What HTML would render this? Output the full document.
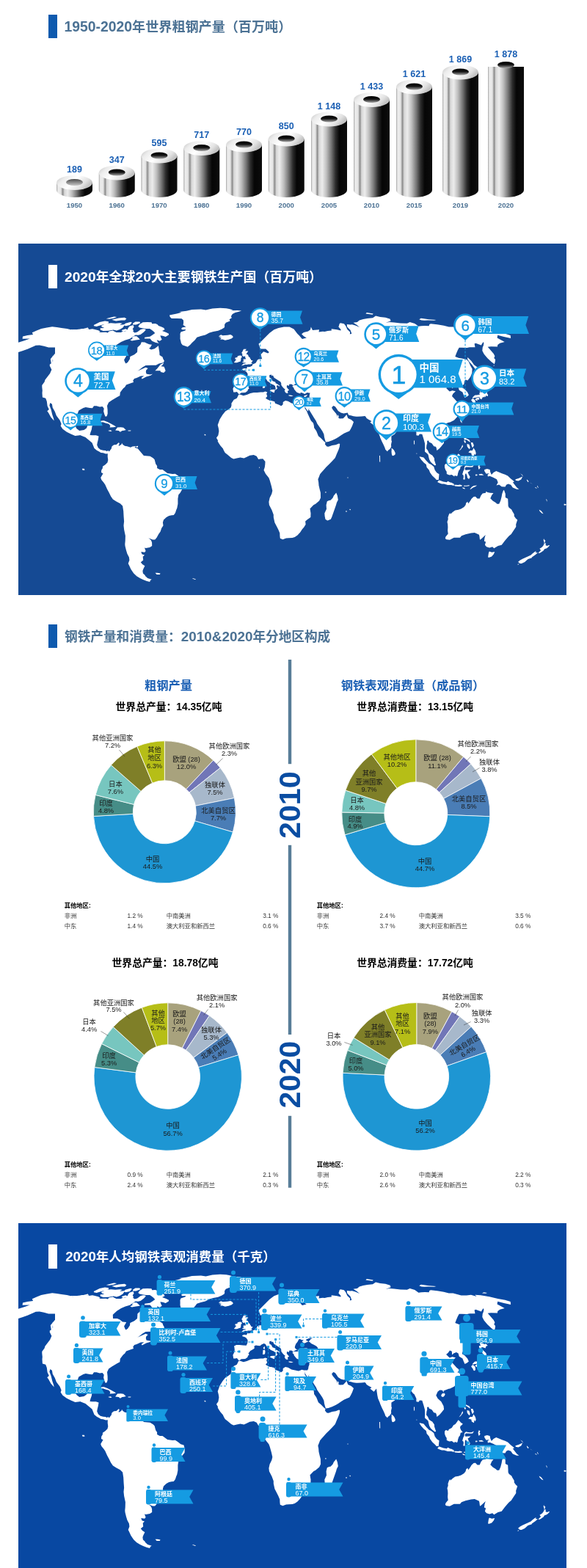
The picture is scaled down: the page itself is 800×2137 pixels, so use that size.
<!DOCTYPE html>
<html lang="zh-CN"><head><meta charset="utf-8"><title>世界钢铁统计数据 2021</title>
<style>
.dl{font-size:9.3px;fill:#1a1a1a;text-anchor:middle}
.yr{font-size:41.2px;font-weight:bold;fill:#0a4da2}
.h1{font-size:16.3px;font-weight:bold;fill:#1a5fb4;text-anchor:middle}
.h2{font-size:13.8px;font-weight:bold;fill:#000;text-anchor:middle}
.tb{font-size:8.3px;font-weight:bold;fill:#000}
.tr{font-size:8.3px;fill:#333}

.mn{font-weight:normal}
.nm{font-weight:bold;fill:#fff}
.vl{fill:#fff}

html,body{margin:0;padding:0;background:#fff}
body{width:800px;height:2137px;position:relative;overflow:hidden;font-family:"Liberation Sans","Noto Sans CJK SC",sans-serif}
.abs{position:absolute}
.box{position:absolute}
.tbar{position:absolute;width:11.5px;height:32.5px}
.ttl{position:absolute;height:32.5px;line-height:33px;font-size:17.95px;font-weight:bold;white-space:nowrap;letter-spacing:0}
.ttl b{font-size:19.2px;font-weight:bold}
svg text{font-family:"Liberation Sans","Noto Sans CJK SC",sans-serif}
.bv{font-size:12.5px;font-weight:bold;fill:#1a5fb4;text-anchor:middle}
.by{font-size:9.6px;font-weight:bold;fill:#4c7294;text-anchor:middle}
</style></head>
<body>
<div class="tbar" style="left:66px;top:19.5px;background:#0e5aae"></div><div class="ttl" style="left:87.5px;top:19.5px;color:#4c7294;font-size:18.1px"><b style="font-size:19.37px">1950-2020</b>年世界粗钢产量（百万吨）</div>
<svg class="abs" style="left:0;top:0" width="800" height="320" viewBox="0 0 800 320">
<defs>
<linearGradient id="gb" x1="0" x2="1" y1="0" y2="0">
<stop offset="0" stop-color="#a4a4a4"/><stop offset="0.04" stop-color="#ededed"/><stop offset="0.12" stop-color="#e6e6e6"/>
<stop offset="0.175" stop-color="#8c8c8c"/><stop offset="0.22" stop-color="#d6d6d6"/><stop offset="0.31" stop-color="#ececec"/>
<stop offset="0.43" stop-color="#bdbdbd"/><stop offset="0.56" stop-color="#767676"/><stop offset="0.68" stop-color="#2c2c2c"/>
<stop offset="0.79" stop-color="#060606"/><stop offset="1" stop-color="#0c0c0c"/></linearGradient>
<linearGradient id="gt" x1="0" x2="1" y1="0" y2="0.4">
<stop offset="0" stop-color="#bdbdbd"/><stop offset="0.25" stop-color="#ececec"/><stop offset="0.55" stop-color="#ffffff"/>
<stop offset="0.85" stop-color="#e2e2e2"/><stop offset="1" stop-color="#c4c4c4"/></linearGradient>
<linearGradient id="gh0" x1="0" x2="0" y1="0" y2="1">
<stop offset="0" stop-color="#4a4a4a"/><stop offset="0.5" stop-color="#8a8a8a"/><stop offset="1" stop-color="#c8c8c8"/></linearGradient>
<linearGradient id="gh" x1="0" x2="0" y1="0" y2="1">
<stop offset="0" stop-color="#000"/><stop offset="0.45" stop-color="#111"/><stop offset="1" stop-color="#aaa"/></linearGradient>
</defs>
<path d="M77,249 L126,249 L126,259 A24.5,10 0 0 1 77,259 Z" fill="url(#gb)"/>
<ellipse cx="101.5" cy="249" rx="24.5" ry="10" fill="url(#gt)"/>
<ellipse cx="101.5" cy="248.5" rx="11.5" ry="4.5" fill="url(#gh0)"/>
<text x="101.5" y="235" class="bv">189</text>
<text x="101.5" y="282.8" class="by">1950</text>
<path d="M134.75,235.5 L183.75,235.5 L183.75,259 A24.5,10 0 0 1 134.75,259 Z" fill="url(#gb)"/>
<ellipse cx="159.25" cy="235.5" rx="24.5" ry="10" fill="url(#gt)"/>
<ellipse cx="159.25" cy="235.0" rx="11.5" ry="4.5" fill="url(#gh)"/>
<text x="159.25" y="221.5" class="bv">347</text>
<text x="159.25" y="282.8" class="by">1960</text>
<path d="M192.5,212.5 L241.5,212.5 L241.5,259 A24.5,10 0 0 1 192.5,259 Z" fill="url(#gb)"/>
<ellipse cx="217.0" cy="212.5" rx="24.5" ry="10" fill="url(#gt)"/>
<ellipse cx="217.0" cy="212.0" rx="11.5" ry="4.5" fill="url(#gh)"/>
<text x="217.0" y="198.5" class="bv">595</text>
<text x="217.0" y="282.8" class="by">1970</text>
<path d="M250.25,202 L299.25,202 L299.25,259 A24.5,10 0 0 1 250.25,259 Z" fill="url(#gb)"/>
<ellipse cx="274.75" cy="202" rx="24.5" ry="10" fill="url(#gt)"/>
<ellipse cx="274.75" cy="201.5" rx="11.5" ry="4.5" fill="url(#gh)"/>
<text x="274.75" y="188" class="bv">717</text>
<text x="274.75" y="282.8" class="by">1980</text>
<path d="M308,197.5 L357,197.5 L357,259 A24.5,10 0 0 1 308,259 Z" fill="url(#gb)"/>
<ellipse cx="332.5" cy="197.5" rx="24.5" ry="10" fill="url(#gt)"/>
<ellipse cx="332.5" cy="197.0" rx="11.5" ry="4.5" fill="url(#gh)"/>
<text x="332.5" y="183.5" class="bv">770</text>
<text x="332.5" y="282.8" class="by">1990</text>
<path d="M365.75,189.5 L414.75,189.5 L414.75,259 A24.5,10 0 0 1 365.75,259 Z" fill="url(#gb)"/>
<ellipse cx="390.25" cy="189.5" rx="24.5" ry="10" fill="url(#gt)"/>
<ellipse cx="390.25" cy="189.0" rx="11.5" ry="4.5" fill="url(#gh)"/>
<text x="390.25" y="175.5" class="bv">850</text>
<text x="390.25" y="282.8" class="by">2000</text>
<path d="M424,162.5 L473,162.5 L473,259 A24.5,10 0 0 1 424,259 Z" fill="url(#gb)"/>
<ellipse cx="448.5" cy="162.5" rx="24.5" ry="10" fill="url(#gt)"/>
<ellipse cx="448.5" cy="162.0" rx="11.5" ry="4.5" fill="url(#gh)"/>
<text x="448.5" y="148.5" class="bv">1 148</text>
<text x="448.5" y="282.8" class="by">2005</text>
<path d="M482,136 L531,136 L531,259 A24.5,10 0 0 1 482,259 Z" fill="url(#gb)"/>
<ellipse cx="506.5" cy="136" rx="24.5" ry="10" fill="url(#gt)"/>
<ellipse cx="506.5" cy="135.5" rx="11.5" ry="4.5" fill="url(#gh)"/>
<text x="506.5" y="122" class="bv">1 433</text>
<text x="506.5" y="282.8" class="by">2010</text>
<path d="M540,118.5 L589,118.5 L589,259 A24.5,10 0 0 1 540,259 Z" fill="url(#gb)"/>
<ellipse cx="564.5" cy="118.5" rx="24.5" ry="10" fill="url(#gt)"/>
<ellipse cx="564.5" cy="118.0" rx="11.5" ry="4.5" fill="url(#gh)"/>
<text x="564.5" y="104.5" class="bv">1 621</text>
<text x="564.5" y="282.8" class="by">2015</text>
<path d="M603,98.5 L652,98.5 L652,259 A24.5,10 0 0 1 603,259 Z" fill="url(#gb)"/>
<ellipse cx="627.5" cy="98.5" rx="24.5" ry="10" fill="url(#gt)"/>
<ellipse cx="627.5" cy="98.0" rx="11.5" ry="4.5" fill="url(#gh)"/>
<text x="627.5" y="84.5" class="bv">1 869</text>
<text x="627.5" y="282.8" class="by">2019</text>
<path d="M665,91 L714,91 L714,259 A24.5,10 0 0 1 665,259 Z" fill="url(#gb)"/>
<ellipse cx="689.5" cy="88.5" rx="11.5" ry="4.5" fill="url(#gh)"/>
<text x="689.5" y="78" class="bv">1 878</text>
<text x="689.5" y="282.8" class="by">2020</text>
</svg>
<div class="box" style="left:25px;top:331.5px;width:746.5px;height:479px;background:#154a94"></div>
<svg class="abs" style="left:0;top:331.5px" width="771.5" height="479" viewBox="0 331.5 771.5 479"><defs><path id="land" d="M25.0,466.2 33.8,463.5 40.6,460.9 30.6,461.2 31.0,458.1 37.5,456.5 45.0,455.6 43.8,452.8 50.0,450.0 56.2,447.5 63.8,446.0 71.2,444.8 77.5,445.6 83.8,446.5 91.2,447.5 97.5,449.0 100.0,449.6 105.0,448.5 112.5,447.8 118.8,446.2 121.2,447.5 96.5,448.4 99.1,449.8 105.4,448.4 111.9,447.4 116.7,447.2 119.3,445.8 121.5,448.4 125.9,447.7 129.2,448.6 134.1,449.8 136.8,451.4 134.9,452.4 144.2,452.2 146.9,453.1 148.7,451.0 153.6,450.0 158.5,452.4 164.9,452.4 168.2,450.7 170.5,451.2 174.0,448.4 174.2,447.2 176.3,444.2 181.4,442.6 182.6,444.9 180.7,447.9 181.9,449.5 181.3,451.2 183.6,452.9 187.1,451.9 191.8,448.4 195.1,447.7 197.6,447.9 198.8,449.1 196.1,451.9 191.5,455.5 188.2,456.3 184.7,456.0 180.9,458.5 176.9,461.2 170.9,462.9 165.1,465.4 159.2,469.2 153.8,474.3 154.0,479.5 159.7,479.5 162.9,480.8 167.0,484.0 172.2,484.5 169.1,490.1 170.1,492.7 171.5,494.9 174.1,493.3 177.0,488.7 177.3,485.6 183.1,482.7 187.0,479.5 187.3,475.6 187.4,473.0 191.4,469.2 192.8,465.7 197.4,465.9 200.3,467.4 203.4,468.7 207.0,469.2 204.8,473.0 203.0,474.3 206.0,476.1 210.7,474.8 215.9,470.7 216.5,475.1 217.3,479.5 217.5,483.4 221.5,486.1 222.4,488.7 224.0,491.4 222.4,493.8 216.7,494.9 212.6,497.3 206.2,497.3 198.6,497.6 194.3,500.0 188.0,504.9 184.6,506.8 190.6,503.8 198.5,500.3 201.7,501.4 199.2,504.1 198.8,506.3 199.5,509.0 201.5,509.6 204.6,510.1 208.3,509.0 208.9,508.5 205.3,511.2 199.2,512.9 193.7,515.9 192.7,514.5 196.3,511.8 191.8,512.0 186.4,514.5 183.1,515.6 181.3,518.1 182.0,520.6 178.2,521.7 172.0,523.9 170.2,527.0 167.8,528.9 165.7,531.7 163.8,534.2 163.3,538.7 159.5,540.7 156.6,542.6 152.4,545.1 148.1,547.9 146.0,552.4 146.6,558.0 146.7,563.3 145.6,566.7 143.6,567.2 142.4,564.4 141.1,559.9 141.7,556.3 139.6,553.5 135.9,554.1 131.5,552.7 128.0,552.7 126.0,555.8 122.5,555.5 116.8,554.4 113.5,555.5 107.3,559.1 105.2,564.7 102.4,573.1 102.2,578.7 104.3,583.4 108.2,586.5 114.5,585.4 118.0,582.9 119.3,579.2 120.3,578.4 125.3,577.3 127.8,577.3 125.5,580.5 124.8,585.0 123.2,589.5 122.5,592.5 126.2,592.8 130.8,592.8 134.5,594.0 133.8,598.5 132.7,603.0 132.2,606.0 133.8,609.8 136.8,612.3 140.5,613.2 143.5,613.5 145.8,614.5 147.5,613.6 148.7,615.0 151.9,610.8 152.3,608.3 154.1,606.6 155.6,605.8 158.6,605.5 162.0,602.6 162.8,604.4 161.5,606.6 162.2,607.2 165.5,605.2 166.1,603.3 167.2,605.2 170.0,607.2 173.2,607.8 178.0,609.2 180.5,608.0 185.4,607.5 183.4,609.4 187.7,610.8 190.0,613.6 193.6,617.8 195.9,620.6 201.6,620.9 204.5,621.2 208.6,623.7 210.6,625.7 212.2,631.8 214.1,634.6 214.1,637.4 217.8,639.4 221.5,639.4 228.2,644.4 235.1,645.5 238.8,645.2 242.6,647.7 246.3,650.8 250.5,651.9 251.8,657.3 251.5,662.6 248.0,666.8 245.7,671.0 243.3,673.8 242.4,679.3 242.4,686.3 241.3,691.9 240.3,694.2 238.9,698.4 236.8,701.6 233.9,701.7 230.3,702.6 226.7,704.5 223.0,708.1 221.9,711.5 222.5,715.7 220.2,719.3 218.6,724.1 216.1,727.4 213.7,731.9 211.2,735.1 208.1,735.0 204.1,733.6 202.4,732.5 206.0,736.1 207.1,738.9 207.2,743.6 204.2,745.6 198.8,746.4 197.0,745.9 198.6,750.6 197.1,752.3 192.3,751.4 193.4,754.7 197.0,756.1 194.7,758.3 195.2,763.0 191.8,765.8 194.0,768.5 197.4,770.7 195.4,774.8 194.4,777.5 194.9,781.0 197.2,783.1 198.2,784.7 201.2,787.4 206.8,789.2 204.8,790.6 204.2,792.6 200.1,791.4 195.0,789.5 190.8,787.4 186.3,784.7 182.1,780.7 178.4,775.3 176.0,769.9 174.7,767.4 176.4,763.0 175.9,758.9 173.4,754.2 171.9,749.2 170.5,743.6 170.3,740.9 170.7,736.7 170.9,729.7 169.1,721.3 168.5,715.7 169.1,710.1 168.6,703.4 168.2,696.1 167.1,689.1 163.8,685.8 158.6,683.0 153.9,679.9 151.1,676.0 148.7,671.0 146.1,666.2 143.3,660.0 141.2,657.0 138.3,653.6 137.2,650.5 139.1,647.2 140.5,644.7 138.0,643.6 138.2,640.2 139.9,637.4 139.9,635.2 143.2,632.9 146.4,630.1 147.3,626.5 146.7,622.0 146.8,617.8 144.2,618.0 140.5,616.8 137.5,616.5 135.2,615.0 132.2,613.5 128.5,610.5 127.0,606.8 125.5,603.0 121.0,599.2 116.5,595.5 109.0,592.5 108.6,592.7 102.4,593.5 96.6,591.0 91.0,588.2 85.5,584.3 82.6,580.1 83.6,577.3 81.6,572.2 76.9,566.1 74.8,560.5 71.7,554.9 70.9,550.2 68.4,548.5 67.4,552.1 69.6,557.7 71.3,564.7 73.0,569.7 73.7,573.1 69.3,568.1 66.0,561.9 64.3,559.7 66.8,557.4 64.6,552.7 63.8,546.5 62.2,542.3 57.9,540.9 57.5,535.1 57.8,531.7 57.3,527.0 57.3,524.5 60.6,520.1 61.4,517.3 68.1,508.5 70.7,502.5 69.9,501.1 67.6,496.2 71.0,494.1 72.2,491.4 71.5,486.6 72.0,483.4 71.2,505.0 67.5,497.5 70.0,496.2 68.8,488.8 75.0,481.2 75.0,473.1 66.2,473.1 60.0,471.2 53.8,470.0 48.8,470.2 43.8,472.5 37.5,475.2 31.2,477.5 25.0,479.4 22.5,479.4 22.5,466.2ZM216.8,467.4 211.7,466.2 207.2,464.2 204.5,460.9 196.9,460.9 197.2,459.2 204.4,458.2 207.8,456.0 211.3,453.6 209.3,451.2 206.4,449.1 204.2,447.4 198.8,447.4 194.1,446.7 190.3,446.0 188.3,444.4 190.3,441.5 194.7,438.8 200.8,438.5 206.5,438.8 207.2,440.8 211.7,440.5 214.3,441.5 216.1,443.5 220.2,444.9 223.4,446.5 224.5,448.8 221.0,450.5 225.9,452.2 230.0,454.3 229.9,456.0 225.7,458.5 221.8,457.2 218.4,456.7 219.4,459.7 220.7,462.2 217.7,464.2 213.8,462.7 214.9,465.7ZM127.8,442.6 135.8,438.5 143.0,437.0 148.0,437.7 147.9,439.7 138.2,442.6 131.5,444.4 128.0,443.7ZM133.0,576.2 138.0,573.1 141.7,572.8 146.3,574.5 150.8,576.7 155.3,579.2 158.2,580.9 155.0,581.8 149.6,581.9 150.4,579.8 148.3,577.3 143.6,575.9 140.2,574.8 136.5,575.3ZM211.5,780.2 214.7,780.2 218.6,781.0 217.8,782.6 213.6,782.6ZM111.8,638.2 114.8,638.2 115.5,640.2 112.6,640.2ZM255.7,472.3 253.0,471.2 248.7,469.7 246.9,467.2 246.3,464.2 245.5,461.2 245.6,458.0 245.5,454.6 246.4,451.9 252.4,450.0 253.2,448.6 248.6,448.8 246.9,447.4 248.6,445.8 253.5,444.9 249.6,442.6 250.1,439.2 250.0,435.9 247.6,433.7 241.2,433.5 233.9,433.5 231.7,431.6 231.0,429.1 240.9,427.1 247.5,425.2 244.3,424.6 254.1,423.2 261.6,421.6 273.9,421.1 280.5,422.0 289.4,420.0 300.0,419.3 308.4,419.7 312.3,420.6 317.6,422.0 314.2,422.8 323.3,422.5 329.1,423.0 325.7,424.3 320.6,425.6 316.8,427.5 314.9,430.5 315.8,432.7 312.6,434.8 313.5,437.0 307.8,439.2 306.0,441.9 306.2,444.2 305.7,446.0 302.4,447.9 297.3,450.2 290.6,451.4 285.4,453.1 279.8,456.0 273.7,457.5 268.4,459.2 265.6,462.9 261.6,466.7 258.9,469.7ZM157.1,585.9 160.0,582.0 164.6,581.8 168.2,582.3 171.7,585.4 169.0,586.2 166.5,586.5 163.9,588.2 161.7,586.5ZM297.7,458.0 301.1,455.8 303.6,456.7 306.5,456.5 310.2,456.3 314.1,455.5 316.4,456.7 317.9,458.7 315.8,460.7 311.8,462.2 306.8,463.2 303.2,462.0 300.0,462.2 301.8,460.4 298.3,459.4 302.3,458.5ZM147.6,586.2 150.8,585.7 152.6,587.1 150.6,587.6 147.8,586.8ZM165.8,449.5 171.1,447.7 173.6,448.8 170.9,450.7 166.4,450.7ZM152.2,435.2 161.9,433.1 169.6,432.2 172.4,433.7 170.3,435.9 165.1,436.1 158.1,437.0 154.6,435.9ZM211.3,504.7 213.9,502.2 218.7,496.2 223.5,493.8 221.7,496.8 219.5,498.7 223.6,499.2 224.8,502.2 225.6,504.9 223.1,507.4 219.0,506.6 218.5,504.7ZM144.6,433.7 155.4,431.0 159.2,431.6 155.0,433.3 148.8,434.2ZM170.9,440.3 178.3,438.3 179.8,439.2 177.0,442.6 171.5,443.7 168.4,442.6ZM174.6,585.9 178.5,585.9 178.1,587.1 174.5,587.1ZM262.4,787.4 266.9,788.7 266.1,789.5 262.6,788.2ZM184.4,438.1 190.3,438.1 191.2,439.7 185.5,441.9 181.0,442.1 181.1,440.3ZM182.4,457.7 186.2,457.7 189.0,460.2 190.8,462.2 185.1,462.9 179.6,463.9 177.3,462.7 180.7,461.2 180.0,459.7ZM185.7,607.5 188.2,607.2 187.8,609.2 185.6,609.2ZM137.9,443.5 144.2,440.5 151.3,439.7 157.2,440.3 163.2,439.7 166.6,440.3 163.2,442.6 170.5,441.5 167.4,446.0 163.3,448.4 159.0,450.0 154.6,449.1 148.0,450.2 140.6,450.5 136.7,449.1 136.7,446.7 142.3,446.5 138.9,444.9ZM325.2,537.3 326.6,537.0 331.8,538.7 336.5,537.6 341.2,535.6 345.9,534.5 350.5,534.5 355.1,533.9 358.8,534.1 361.5,533.1 364.3,533.9 363.2,535.9 363.4,537.3 364.3,539.5 362.0,542.3 364.3,543.7 367.9,545.4 369.5,545.4 374.2,546.8 375.0,549.3 379.7,551.0 383.3,552.7 385.6,550.7 385.7,547.6 388.9,545.4 392.5,546.2 397.3,549.0 402.1,549.9 406.8,551.0 409.1,550.2 411.4,549.3 414.5,549.9 415.2,553.5 415.6,556.3 418.0,559.7 419.4,563.3 422.0,568.9 423.9,573.1 426.9,575.9 427.8,579.2 428.1,582.6 431.2,587.1 433.9,593.8 437.7,596.9 441.5,601.0 443.5,602.4 442.9,605.0 445.4,608.0 447.8,608.3 452.7,606.4 457.6,605.8 461.9,604.1 463.2,604.4 462.8,608.3 461.5,612.2 459.1,617.8 456.8,623.4 453.1,627.6 449.0,631.8 444.6,636.0 440.9,640.2 438.4,643.0 436.1,645.8 435.1,648.6 433.4,652.8 434.1,656.4 434.5,661.2 435.6,665.9 436.9,671.0 437.0,677.9 435.1,682.1 430.1,686.3 427.3,687.7 422.5,692.8 423.5,698.9 423.3,704.5 418.3,707.9 416.1,710.1 416.6,714.3 414.3,717.9 411.7,721.0 409.1,724.9 405.4,729.1 401.7,731.4 398.4,732.5 393.5,732.8 390.0,733.0 385.3,734.7 381.8,733.3 381.4,729.7 381.3,726.0 379.3,721.3 377.4,717.4 374.4,711.8 372.8,704.5 372.8,700.9 370.5,694.7 366.9,687.7 366.4,683.5 367.6,677.9 370.3,672.6 371.3,668.2 369.9,662.0 367.7,654.2 366.4,650.8 362.0,645.2 359.5,640.2 360.8,636.3 361.3,632.4 361.5,628.5 359.5,626.2 358.3,624.8 354.6,625.1 352.2,625.4 349.7,621.2 345.8,619.5 340.4,620.3 336.9,622.0 332.5,624.0 327.5,622.9 322.6,624.0 318.4,625.1 315.2,623.4 310.8,619.8 306.7,616.4 305.0,613.6 303.8,610.8 300.7,607.2 298.3,603.8 296.7,601.0 297.0,599.7 294.9,596.3 297.4,592.7 298.4,587.1 297.8,582.9 296.7,578.7 299.5,571.1 303.4,564.7 307.2,559.9 310.9,557.7 314.6,554.9 315.5,552.1 315.4,549.3 318.7,544.3 322.8,542.3 324.9,538.1ZM278.5,591.3 280.2,591.5 280.4,592.9 278.7,592.7ZM443.4,669.6 444.6,669.8 444.3,671.2 443.3,671.0ZM458.2,671.0 459.8,675.1 460.8,680.7 458.9,684.4 458.0,687.7 455.1,696.1 452.1,704.5 450.7,707.3 446.3,709.0 443.5,707.3 442.6,703.1 442.3,698.9 445.0,693.3 444.6,687.7 445.8,682.7 448.5,681.6 450.5,681.3 453.6,677.9 454.9,675.1 457.0,672.4ZM476.5,693.3 478.0,693.6 477.6,694.7 476.4,694.4ZM471.3,695.8 472.7,695.8 472.6,697.2 471.2,697.0ZM353.1,636.0 354.1,636.3 353.9,637.4 353.1,637.1ZM473.5,650.0 474.5,650.0 474.5,651.1 473.5,651.1ZM564.0,599.7 565.0,600.2 565.1,605.0 564.1,605.0ZM358.9,518.9 360.7,517.3 360.9,520.1 360.2,521.7 359.1,520.6ZM393.3,538.1 395.6,537.9 399.8,538.7 396.9,539.7 393.6,539.0ZM413.8,539.5 415.4,538.4 419.0,537.6 417.8,539.5 415.5,540.7ZM318.2,533.9 317.4,529.2 319.3,525.6 319.8,522.3 319.4,518.7 318.9,517.3 321.9,515.4 326.4,515.6 331.2,515.9 335.7,516.2 337.2,513.1 337.6,510.1 337.4,508.5 335.4,505.7 333.7,504.7 330.5,503.8 330.0,502.5 332.9,501.4 336.1,501.9 337.1,499.2 338.2,499.8 340.7,499.5 343.8,497.9 344.1,496.2 346.1,495.2 348.2,494.4 349.4,492.7 350.9,490.1 352.6,489.0 355.7,488.7 358.9,488.5 357.0,488.5 355.5,482.5 359.2,478.8 365.2,481.0 366.8,479.5 362.2,475.0 354.8,475.0 352.5,468.2 360.0,460.8 367.5,453.2 373.5,448.8 379.5,446.5 387.0,445.0 394.5,445.0 400.5,448.0 405.0,454.0 408.0,457.0 411.8,461.5 417.8,460.0 414.0,457.8 411.0,454.8 414.0,452.5 420.0,451.0 423.0,448.8 423.8,445.0 426.0,449.5 435.0,448.8 434.5,451.9 439.7,451.2 442.5,451.4 446.6,450.5 451.8,450.0 451.7,447.7 459.3,448.8 464.4,450.0 464.5,448.4 461.4,444.9 462.8,440.5 464.0,439.7 468.9,440.8 471.2,443.7 473.4,448.4 477.1,451.9 476.9,455.0 479.3,454.3 477.6,449.5 473.1,444.9 472.8,441.5 477.4,441.9 479.8,441.7 484.2,443.0 488.9,444.9 490.5,446.0 486.5,442.6 481.5,439.2 486.9,438.5 489.8,435.9 495.0,434.4 500.7,433.5 508.0,432.7 512.0,430.1 518.1,431.6 525.3,432.2 531.7,434.2 532.5,437.0 529.5,438.1 525.6,439.2 530.8,438.5 537.2,439.0 545.8,439.9 554.8,440.3 558.6,438.5 565.3,440.5 570.4,444.2 574.2,443.7 579.2,443.5 584.6,443.7 585.3,441.5 587.0,440.8 595.9,441.7 604.9,443.3 611.7,445.1 617.5,444.9 628.6,447.9 635.8,447.9 641.9,447.2 649.6,449.5 647.2,447.2 655.0,447.7 667.0,449.8 678.5,452.6 688.3,454.3 695.7,456.5 696.1,460.4 686.8,458.5 678.2,456.3 677.6,459.9 687.7,465.4 681.2,467.2 678.2,469.5 677.9,472.0 669.1,471.7 664.7,472.3 668.8,476.9 672.7,481.6 674.4,484.8 673.3,487.4 675.1,489.5 674.7,492.7 673.8,495.7 669.8,492.7 664.2,487.4 659.6,482.1 657.3,477.4 657.7,473.0 658.8,470.5 659.4,467.2 658.8,465.4 656.9,467.9 655.9,470.0 648.3,467.2 646.6,467.9 647.5,472.8 640.2,472.8 636.4,473.5 629.3,473.3 625.7,473.3 623.7,476.9 622.1,480.8 620.3,485.6 625.6,487.4 629.1,487.9 636.0,489.5 638.6,492.2 641.2,498.1 643.6,502.2 643.3,507.7 641.2,513.1 637.4,518.1 634.3,517.0 632.9,519.2 632.5,522.8 630.1,525.6 629.8,527.8 633.2,529.8 637.1,533.9 638.9,538.1 636.4,540.1 633.5,541.5 631.9,538.1 630.4,533.9 625.8,531.2 624.6,527.0 621.9,525.6 618.2,527.0 616.1,528.9 615.8,524.2 613.0,523.1 610.9,525.9 608.1,528.4 610.9,531.2 612.8,533.1 616.4,531.7 621.0,532.8 618.3,535.3 617.1,536.5 616.0,539.5 618.6,542.3 622.4,546.5 625.3,548.8 625.2,551.3 623.2,552.7 627.1,553.8 627.1,557.7 625.5,559.1 624.3,564.7 622.8,568.1 621.6,569.2 618.8,572.2 613.3,575.0 611.6,575.3 607.7,576.7 604.6,578.1 604.7,580.6 602.8,577.3 599.3,577.0 596.5,579.2 594.3,584.3 596.6,588.5 601.3,592.7 604.5,598.8 605.1,603.3 601.1,608.3 598.9,610.8 595.4,613.4 594.6,609.4 593.8,608.3 591.3,607.8 588.5,603.8 584.7,601.9 584.3,599.9 582.1,600.2 582.2,603.8 581.4,606.6 581.0,610.8 583.1,613.6 584.8,617.3 587.6,619.2 589.1,620.1 591.9,624.0 592.0,626.8 594.2,633.5 592.4,633.8 589.2,631.2 586.9,629.0 585.1,625.7 584.2,622.3 583.6,619.2 582.3,617.8 579.0,615.0 579.1,609.4 579.0,603.8 577.5,598.3 575.3,591.3 571.9,591.0 570.4,593.2 567.4,592.7 567.4,588.5 564.8,582.9 562.7,581.2 560.1,577.8 559.3,575.0 556.1,575.0 553.9,576.4 550.3,576.7 548.0,577.8 547.2,581.5 543.8,583.4 541.7,586.2 540.2,587.9 537.8,591.3 533.4,594.1 533.4,599.7 534.0,600.8 533.0,605.2 533.2,608.6 531.4,611.4 529.5,612.8 527.9,614.8 525.3,612.2 524.4,609.4 522.5,605.2 520.5,601.3 518.2,596.0 517.6,594.1 515.2,588.5 514.3,584.3 513.5,578.7 513.0,575.0 509.5,579.2 504.3,575.0 506.5,573.4 502.7,571.4 499.6,569.5 498.8,568.1 497.4,566.4 492.7,566.9 487.4,567.2 485.5,567.2 481.8,566.7 478.2,565.8 475.2,565.3 473.7,561.9 468.3,563.0 464.6,561.9 460.8,559.4 458.9,556.6 456.7,553.5 454.2,552.4 452.1,554.9 453.5,557.7 456.2,561.1 458.1,563.3 459.5,566.1 459.9,568.1 460.1,564.4 461.7,566.7 461.2,568.9 462.9,570.0 467.7,569.7 470.6,566.7 472.3,564.4 473.5,567.5 474.2,569.5 478.7,571.4 482.0,574.5 480.0,580.1 477.9,584.3 476.2,587.1 472.6,588.5 469.1,589.9 464.8,592.7 460.8,595.5 457.3,597.4 452.5,599.7 447.6,601.6 444.0,601.9 443.2,599.7 442.0,595.5 441.4,591.3 439.3,587.1 436.6,582.9 432.5,577.3 430.6,573.1 428.0,568.9 425.4,564.7 422.8,560.5 421.0,557.7 421.3,554.9 420.3,558.5 419.9,559.9 417.9,557.7 415.5,553.8 414.5,549.9 419.0,549.9 420.1,547.9 420.5,545.1 421.5,542.6 421.8,538.1 422.5,535.1 420.9,535.1 418.7,534.5 415.2,536.5 412.8,535.3 409.7,534.2 409.4,535.9 405.8,534.8 404.2,533.9 400.9,530.0 400.1,527.5 398.9,527.0 398.6,525.6 400.5,524.5 405.1,524.5 407.0,523.7 405.1,522.3 409.4,522.5 411.5,520.9 414.8,520.1 418.4,520.1 421.3,522.0 425.3,522.8 429.1,522.8 433.0,521.4 433.2,519.5 431.3,517.3 428.2,515.6 424.1,513.4 422.3,511.8 420.7,510.9 423.3,507.7 425.9,506.0 422.0,506.3 417.8,507.7 416.9,509.0 420.4,510.7 418.1,511.8 415.6,513.1 414.1,513.1 411.6,510.9 413.8,508.8 411.4,508.8 409.0,507.4 407.3,507.7 405.5,511.2 403.3,514.0 402.2,516.7 401.7,518.7 402.5,520.3 404.9,522.3 402.7,522.8 399.9,524.5 398.2,523.9 398.2,523.2 394.6,523.1 393.4,525.6 391.2,524.2 390.7,527.0 391.7,528.4 394.1,531.2 391.9,532.6 392.5,535.3 390.9,535.6 389.0,534.5 387.7,531.7 388.8,530.3 387.1,528.9 385.2,527.0 383.3,524.2 383.2,521.7 382.2,519.8 380.1,518.4 376.3,515.9 373.5,514.3 371.9,510.9 370.0,511.8 370.1,510.1 367.1,510.7 367.3,514.0 369.8,515.6 371.4,518.7 375.5,520.3 375.5,521.7 377.8,522.8 381.3,525.3 380.9,526.2 377.9,524.2 376.8,526.4 378.2,528.4 376.9,530.0 375.0,531.3 375.7,529.2 374.9,525.6 372.9,523.9 371.5,523.4 368.8,522.3 367.0,520.6 364.5,518.9 362.7,515.9 361.6,514.3 359.6,513.4 356.4,515.1 354.4,516.7 351.7,516.5 348.6,515.9 346.4,517.3 346.7,518.9 346.7,520.3 344.4,521.7 341.2,523.4 338.5,527.0 339.6,528.9 337.9,530.3 337.4,532.3 334.3,534.5 328.8,534.8 326.5,536.5 325.0,536.2 324.4,535.3 322.9,533.4 320.5,533.9ZM328.4,498.0 331.7,497.2 334.3,496.2 336.6,496.5 338.0,496.0 341.4,496.1 343.8,495.0 343.8,494.4 342.1,494.1 343.0,493.3 344.6,491.1 342.1,490.2 341.8,488.7 341.0,488.5 340.5,486.6 338.9,485.8 338.2,483.4 337.5,482.7 335.5,482.1 336.4,480.8 337.5,479.2 338.3,477.9 334.9,477.7 333.8,477.9 335.9,475.3 332.1,475.3 330.9,477.4 330.0,479.5 329.1,480.3 330.4,482.1 330.0,484.0 331.3,484.8 330.8,485.6 334.2,485.0 334.2,486.9 335.0,487.9 334.7,489.0 331.8,489.0 331.6,490.6 332.3,491.9 329.7,493.0 331.8,493.8 334.5,494.1 335.1,494.1 334.0,494.9 331.9,494.9 331.2,495.4 330.0,497.1ZM601.3,583.7 602.9,581.5 605.5,581.2 606.7,582.6 605.8,584.8 603.9,586.5 601.6,585.7ZM655.0,521.4 652.8,518.4 653.2,516.5 655.2,516.5 652.9,511.8 652.5,510.4 656.7,513.1 660.4,514.5 662.1,513.7 664.8,516.5 662.4,517.3 661.6,520.1 657.3,518.4 655.7,519.2 654.6,519.2 657.2,520.6 656.3,520.9ZM657.4,521.7 660.0,524.2 662.5,526.7 663.2,530.3 662.8,531.7 663.8,533.9 663.8,535.9 665.2,537.6 664.7,539.3 663.9,539.8 662.9,538.4 662.0,539.0 662.0,540.7 660.6,539.5 660.4,540.7 657.6,540.7 657.7,541.5 656.8,542.6 656.1,543.9 653.9,542.3 653.4,540.7 650.6,540.7 648.6,541.5 647.2,541.5 644.3,542.3 643.9,541.2 644.7,540.4 646.7,538.4 647.8,537.9 650.0,538.0 652.1,537.6 654.0,537.6 653.2,535.9 654.1,534.2 653.8,533.1 654.7,532.6 654.9,534.5 657.1,533.4 657.9,531.7 658.7,529.5 657.7,526.7 656.3,524.2 656.2,522.3 657.5,523.1ZM319.7,493.8 322.9,493.8 326.2,492.5 327.7,492.2 328.3,490.1 328.4,489.3 328.4,487.4 329.9,486.3 329.4,485.6 329.1,484.2 326.5,484.0 323.9,484.8 323.4,485.8 323.7,486.6 320.6,486.9 320.3,488.7 322.3,489.5 321.2,490.3 320.1,492.2 319.0,492.5 319.3,493.3ZM663.7,513.7 664.8,512.0 666.1,510.7 666.4,511.8 664.8,513.4ZM668.7,509.6 669.9,508.2 670.1,509.0ZM671.9,506.3 672.5,504.1 672.8,505.2ZM672.6,498.7 673.0,496.5 673.7,497.9ZM644.2,542.6 646.7,544.3 647.8,546.0 648.0,549.6 646.7,550.7 645.2,549.9 644.5,547.9 642.9,546.0 642.1,544.6 643.3,543.4ZM517.0,620.6 518.0,620.6 518.2,629.0 517.2,629.0ZM571.2,434.8 573.9,433.3 584.4,434.8 594.5,435.5 591.7,436.3 583.0,436.1 578.4,436.3 574.4,435.9ZM567.5,617.0 568.3,617.3 568.1,618.4 567.6,618.1ZM651.8,509.0 654.6,508.5 651.3,504.9 648.9,500.8 652.6,501.4 646.0,496.8 642.4,491.4 637.3,486.6 637.1,488.7 639.7,492.7 643.4,496.8 647.5,502.2 649.6,506.3ZM357.9,528.4 358.4,524.2 358.2,522.8 360.9,522.3 361.5,524.2 361.1,527.8 359.7,528.4ZM498.4,426.9 507.8,428.3 508.7,427.1 499.8,425.6ZM647.3,544.1 649.0,542.3 651.6,541.3 652.7,541.8 653.3,542.9 652.7,544.6 650.7,543.7 650.4,546.0 648.7,545.1ZM367.5,531.7 369.8,530.6 374.8,530.3 373.8,534.8 371.2,533.7 368.2,532.3ZM533.5,610.0 535.8,611.7 537.2,613.6 538.8,617.0 538.4,619.2 535.7,620.8 534.2,620.1 533.8,618.1 533.5,615.0 533.7,612.5ZM628.2,567.4 629.2,566.7 630.6,567.5 630.2,570.3 629.5,573.9 629.5,576.2 627.4,573.4 627.0,570.9 627.7,568.6ZM656.9,444.9 659.4,443.7 664.0,444.4 662.0,445.3ZM686.9,667.3 688.8,672.4 688.8,677.4 692.2,679.3 692.5,684.7 692.6,689.1 693.6,691.2 697.2,693.9 698.4,696.4 700.7,700.3 700.8,703.1 702.9,705.9 705.2,708.1 703.2,714.0 703.3,717.4 699.8,722.7 696.7,727.4 693.9,729.7 691.6,732.2 687.8,736.7 684.6,740.9 683.6,742.2 678.7,743.4 673.3,746.7 671.1,744.8 667.1,745.9 663.1,744.8 660.9,742.2 662.1,738.1 659.9,736.9 660.4,733.0 661.7,728.6 658.6,731.6 655.0,734.7 654.0,735.0 653.4,730.2 652.9,728.3 646.9,725.5 642.0,726.0 634.4,727.7 629.0,729.7 626.9,732.2 623.2,732.2 618.7,732.2 613.0,735.3 608.5,734.7 606.8,733.6 607.4,731.1 610.7,726.9 610.1,722.7 610.4,717.9 610.2,714.3 609.5,710.7 610.7,707.3 610.5,704.5 612.0,700.3 613.5,698.4 613.9,700.3 616.8,697.5 620.3,695.0 624.8,694.2 628.4,693.0 632.4,690.5 634.6,687.7 635.2,684.9 637.2,683.3 638.3,685.8 641.0,682.1 642.6,679.3 645.5,676.5 647.9,676.3 650.5,679.1 653.7,679.1 655.4,675.1 657.7,672.1 662.0,671.2 662.4,669.3 664.5,670.4 668.1,671.2 672.5,671.5 670.1,674.6 668.3,678.8 671.5,681.9 675.9,684.7 677.3,686.3 680.2,686.3 682.2,682.1 683.6,676.5 684.3,672.6 685.8,668.2ZM619.0,660.3 621.7,660.3 624.1,660.6 626.9,660.0 629.8,660.9 629.7,662.0 626.0,662.6 622.3,662.3 619.9,662.0ZM606.0,633.2 607.5,631.6 610.9,632.6 611.8,630.4 615.7,628.5 618.1,624.8 620.5,623.4 622.8,620.6 624.6,617.8 626.9,619.8 628.0,621.2 630.8,622.9 629.4,624.8 627.7,625.7 627.0,628.2 628.1,631.2 630.6,634.6 627.7,635.2 627.0,638.8 625.2,641.0 624.1,644.4 623.6,647.2 623.0,648.6 619.6,647.5 619.3,648.9 615.7,646.6 612.5,646.9 608.8,645.5 608.7,642.2 607.2,639.9 606.0,636.6ZM717.9,652.8 720.6,655.6 719.6,656.7 718.0,654.2ZM647.7,646.3 650.2,646.1 650.7,647.5 648.4,648.0ZM768.7,686.3 771.6,686.6 771.2,688.3 768.6,688.0ZM632.0,661.2 635.9,661.2 639.6,660.6 639.5,661.7 635.8,662.3 632.1,662.3ZM651.6,634.9 652.8,631.5 654.5,633.2 653.3,635.2 654.8,636.6 652.8,639.6 652.1,638.0ZM596.1,656.4 598.2,653.9 600.1,654.5 604.3,656.1 608.9,656.7 610.4,655.3 614.5,657.5 614.3,656.7 618.6,658.9 618.7,661.4 615.1,660.6 610.2,660.5 605.3,659.1 602.1,658.9 599.2,658.1ZM630.5,585.7 631.4,585.4 634.3,585.7 635.0,589.9 634.0,593.2 634.5,596.6 636.8,597.7 639.4,598.8 641.3,602.2 638.4,600.8 635.7,598.8 633.3,599.1 632.2,597.4 632.8,596.6 631.0,596.0 629.9,593.2 629.7,591.8 630.8,591.0 630.4,588.5ZM637.4,617.8 638.7,615.6 640.8,613.4 643.8,613.6 645.4,610.0 647.7,613.6 648.7,617.0 647.8,619.8 646.3,617.8 646.0,621.7 642.9,620.1 642.3,617.0 640.8,616.7 638.5,616.1ZM631.9,599.7 634.2,599.9 635.0,602.7 633.5,603.3ZM702.4,652.8 706.6,651.4 712.2,649.1 710.2,653.1 706.4,655.0 702.8,654.2ZM734.7,693.9 737.8,696.1 740.6,699.8 738.4,698.9 735.4,696.1ZM660.2,639.6 663.9,638.5 667.6,639.6 668.3,643.0 669.9,646.6 672.5,643.6 676.2,641.6 679.9,643.0 684.0,644.7 688.4,646.3 692.0,648.0 696.2,651.9 699.1,654.2 700.9,656.1 698.9,656.7 701.1,659.8 704.4,664.0 707.4,666.2 704.2,666.2 698.8,664.0 696.2,660.3 692.6,658.9 690.0,660.3 688.5,663.1 683.7,662.8 680.2,660.0 676.5,660.9 678.7,657.0 677.0,652.8 672.2,650.3 667.4,648.3 664.9,648.9 664.5,646.6 666.8,644.4 662.6,645.2 660.2,641.6ZM708.9,644.7 711.8,646.6 714.0,650.5 713.1,649.1 710.6,646.3ZM741.0,733.6 741.9,735.3 743.3,736.1 742.1,740.3 744.0,739.7 743.5,742.5 745.5,743.6 748.1,742.5 749.2,742.8 747.0,745.3 745.1,746.7 742.1,747.8 740.6,750.0 736.6,752.8 734.4,753.6 733.8,752.8 736.9,749.8 736.8,748.9 735.4,747.3 738.3,745.6 740.2,743.4 741.5,740.9 741.7,738.9 740.7,735.8ZM730.7,750.6 730.0,752.8 732.9,752.5 731.3,754.2 729.1,755.9 724.8,758.9 724.9,759.7 719.6,761.4 715.1,765.5 710.9,767.4 708.5,767.4 707.4,766.3 705.9,765.5 708.8,763.0 712.5,761.1 714.2,760.3 719.2,758.1 723.5,755.9 725.6,753.9 728.5,751.7ZM625.4,613.9 628.3,610.3 630.3,605.5 631.1,608.0 627.9,612.2ZM636.4,604.4 639.4,605.2 640.7,609.4 639.9,611.7 638.1,610.0 636.7,608.0ZM641.8,602.4 644.2,602.4 645.9,606.6 644.6,608.9 643.7,609.4 642.4,605.8ZM652.7,645.8 656.4,645.2 659.5,646.9 656.3,647.2 652.9,646.9ZM722.2,657.0 724.6,658.4 728.1,660.6 726.9,659.8 723.4,658.1ZM729.5,663.4 732.1,664.8 730.8,665.1 729.2,664.2ZM732.2,661.2 733.9,664.0 733.1,664.2 731.9,662.0ZM706.1,768.0 707.5,768.2 706.1,769.3 705.3,769.1ZM631.5,653.1 633.7,653.1 633.6,648.6 634.0,645.5 635.2,644.7 636.6,648.0 637.0,650.8 639.1,652.5 640.7,649.4 638.9,646.6 637.5,643.0 639.2,641.9 641.5,639.9 638.0,639.9 635.6,640.2 633.9,639.9 633.6,637.4 634.9,636.0 638.1,636.0 641.3,636.3 644.2,636.0 645.9,632.9 643.0,634.6 640.5,634.7 636.8,634.3 635.1,633.8 633.1,635.4 632.7,637.4 632.6,639.6 631.4,641.6 630.6,644.4 630.0,645.8 631.7,647.5 631.8,650.0 631.3,651.9ZM571.9,621.7 577.4,622.9 580.4,626.8 584.7,631.2 587.5,632.6 591.2,635.4 592.7,640.2 595.3,643.8 598.5,645.8 598.1,650.0 597.7,653.6 594.8,653.6 593.1,651.4 589.3,648.0 586.2,643.8 584.7,640.1 581.6,636.6 580.8,632.6 577.6,630.1 574.0,625.9 571.7,622.6ZM629.6,664.0 633.2,664.2 633.8,665.9 631.4,665.4ZM666.9,751.1 670.3,752.3 674.2,751.4 672.9,754.7 670.1,758.1 666.7,759.2 665.1,758.9 665.6,755.3 666.1,752.5ZM640.4,666.2 643.1,663.1 645.7,661.4 650.2,660.9 648.1,662.6 644.3,664.2 641.6,666.2ZM744.2,679.3 745.4,680.7 745.5,683.5 744.7,681.6Z"/></defs><use href="#land" fill="#fff"/><path d="M354.8,449 L354.8,498" fill="none" stroke="#159be2" stroke-width="1" stroke-dasharray="3 2"/><rect x="353.3" y="496.5" width="3" height="3" fill="#159be2"/>
<path d="M278,503.8 L345.5,503.8" fill="none" stroke="#159be2" stroke-width="1" stroke-dasharray="3 2"/><rect x="344.0" y="502.3" width="3" height="3" fill="#159be2"/>
<path d="M250.5,557.5 L368.7,557.5 L368.7,517.5" fill="none" stroke="#159be2" stroke-width="1" stroke-dasharray="3 2"/><rect x="367.2" y="516.0" width="3" height="3" fill="#159be2"/>
<path d="M634,463 L634,539" fill="none" stroke="#159be2" stroke-width="1" stroke-dasharray="3 2"/><rect x="632.5" y="537.5" width="3" height="3" fill="#159be2"/>
<path d="M407.5,541.2 L437.4,541.2 L435.5,547.4 L437.8,553.5 L407.5,553.5 Z" fill="#159be2"/>
<path d="M403.8,555.3 L407.5,558.8 L411.2,555.3 Z" fill="#159be2"/><circle cx="407.5" cy="547.5" r="8.70" fill="#159be2"/><circle cx="407.5" cy="547.5" r="7.10" fill="#fff"/><text x="407.2" y="551.4" font-size="11.1" fill="#159be2" stroke="#159be2" stroke-width="0.20" text-anchor="middle" letter-spacing="-0.6" class="mn">20</text>
<text x="418.2" y="545.9" font-size="4.4" class="nm">埃及</text>
<text x="418.2" y="551.3" font-size="4.5" class="vl">8.2</text>
<path d="M617.4,620.6 L661.6,620.6 L659.5,627.3 L662,634 L617.4,634 Z" fill="#159be2"/>
<path d="M613.3,636.2 L617.4,639.5 L621.5,636.2 Z" fill="#159be2"/><circle cx="617.4" cy="627.5" r="9.70" fill="#159be2"/><circle cx="617.4" cy="627.5" r="8.10" fill="#fff"/><text x="617.1" y="631.9" font-size="12.4" fill="#159be2" stroke="#159be2" stroke-width="0.22" text-anchor="middle" letter-spacing="-0.6" class="mn">19</text>
<text x="628" y="625.6" font-size="4.5" class="nm">印度尼西亚</text>
<text x="628" y="631.5" font-size="5" class="vl">9.3</text>
<path d="M131.9,470 L175.1,470 L172.8,477.2 L175.5,484.4 L131.9,484.4 Z" fill="#159be2"/>
<path d="M126.9,487.5 L131.9,491.3 L136.9,487.5 Z" fill="#159be2"/><circle cx="131.9" cy="476.9" r="11.80" fill="#159be2"/><circle cx="131.9" cy="476.9" r="10.20" fill="#fff"/><text x="131.6" y="482.3" font-size="15.1" fill="#159be2" stroke="#159be2" stroke-width="0.27" text-anchor="middle" letter-spacing="-0.6" class="mn">18</text>
<text x="144.4" y="475.5" font-size="5.3" class="nm">加拿大</text>
<text x="144.4" y="483.1" font-size="6.4" class="vl">11.0</text>
<path d="M328,511.8 L363.4,511.8 L361.1,518.9 L363.8,526 L328,526 Z" fill="#159be2"/>
<path d="M323.3,529.6 L328.0,532.5 L332.7,529.6 Z" fill="#159be2"/><circle cx="328" cy="519.5" r="11.20" fill="#159be2"/><circle cx="328" cy="519.5" r="9.60" fill="#fff"/><text x="327.7" y="524.6" font-size="14.3" fill="#159be2" stroke="#159be2" stroke-width="0.26" text-anchor="middle" letter-spacing="-0.6" class="mn">17</text>
<text x="340" y="517.0" font-size="5.5" class="nm">西班牙</text>
<text x="340" y="524" font-size="6.5" class="vl">11.0</text>
<path d="M278,481 L317.1,481 L314.7,488.4 L317.5,495.8 L278,495.8 Z" fill="#159be2"/>
<path d="M273.3,498.1 L278.0,502.5 L282.7,498.1 Z" fill="#159be2"/><circle cx="278" cy="488" r="11.20" fill="#159be2"/><circle cx="278" cy="488" r="9.60" fill="#fff"/><text x="277.7" y="493.1" font-size="14.3" fill="#159be2" stroke="#159be2" stroke-width="0.26" text-anchor="middle" letter-spacing="-0.6" class="mn">16</text>
<text x="290" y="486.5" font-size="5.5" class="nm">法国</text>
<text x="290" y="493.5" font-size="6.5" class="vl">11.6</text>
<path d="M96.2,563.3 L139.3,563.3 L136.7,571.5 L139.8,579.8 L96.2,579.8 Z" fill="#159be2"/>
<path d="M91.5,582.1 L96.2,586.0 L100.9,582.1 Z" fill="#159be2"/><circle cx="96.2" cy="572" r="11.20" fill="#159be2"/><circle cx="96.2" cy="572" r="9.60" fill="#fff"/><text x="95.9" y="577.1" font-size="14.3" fill="#159be2" stroke="#159be2" stroke-width="0.26" text-anchor="middle" letter-spacing="-0.6" class="mn">15</text>
<text x="109.3" y="570.5" font-size="5.8" class="nm">墨西哥</text>
<text x="109.3" y="577.6" font-size="7.2" class="vl">16.8</text>
<path d="M602.4,579.5 L652.9,579.5 L650.2,588.0 L653.4,596.6 L602.4,596.6 Z" fill="#159be2"/>
<path d="M597.1,599.4 L602.4,603.5 L607.7,599.4 Z" fill="#159be2"/><circle cx="602.4" cy="588" r="12.70" fill="#159be2"/><circle cx="602.4" cy="588" r="10.60" fill="#fff"/><text x="602.1" y="593.8" font-size="16.3" fill="#159be2" stroke="#159be2" stroke-width="0.29" text-anchor="middle" letter-spacing="-0.6" class="mn">14</text>
<text x="616" y="586.0" font-size="6" class="nm">越南</text>
<text x="616" y="593.5" font-size="6.5" class="vl">19.5</text>
<path d="M250.5,532.5 L287.5,532.5 L284.9,540.6 L288,548.8 L250.5,548.8 Z" fill="#159be2"/>
<path d="M244.7,552.6 L250.5,556.0 L256.3,552.6 Z" fill="#159be2"/><circle cx="250.5" cy="540.3" r="13.70" fill="#159be2"/><circle cx="250.5" cy="540.3" r="11.60" fill="#fff"/><text x="250.2" y="546.5" font-size="17.5" fill="#159be2" stroke="#159be2" stroke-width="0.32" text-anchor="middle" letter-spacing="-0.6" class="mn">13</text>
<text x="264.5" y="537.4" font-size="7" class="nm">意大利</text>
<text x="264.5" y="547.5" font-size="8" class="vl">20.4</text>
<path d="M413.8,477 L461.5,477 L458.9,485.1 L462,493.3 L413.8,493.3 Z" fill="#159be2"/>
<path d="M408.7,496.5 L413.8,500.0 L418.9,496.5 Z" fill="#159be2"/><circle cx="413.8" cy="485.5" r="12.20" fill="#159be2"/><circle cx="413.8" cy="485.5" r="10.10" fill="#fff"/><text x="413.5" y="491.0" font-size="15.6" fill="#159be2" stroke="#159be2" stroke-width="0.28" text-anchor="middle" letter-spacing="-0.6" class="mn">12</text>
<text x="427.5" y="483.4" font-size="6.2" class="nm">乌克兰</text>
<text x="427.5" y="491" font-size="7" class="vl">20.6</text>
<path d="M629.6,548 L699.9,548 L697.2,556.5 L700.4,565 L629.6,565 Z" fill="#159be2"/>
<path d="M624.5,567.9 L629.6,574.4 L634.7,567.9 Z" fill="#159be2"/><circle cx="629.6" cy="557" r="12.10" fill="#159be2"/><circle cx="629.6" cy="557" r="10.00" fill="#fff"/><text x="629.3000000000001" y="562.5" font-size="15.5" fill="#159be2" stroke="#159be2" stroke-width="0.28" text-anchor="middle" letter-spacing="-0.6" class="mn">11</text>
<text x="642.5" y="555.0" font-size="6" class="nm">中国台湾</text>
<text x="642.5" y="562" font-size="6.5" class="vl">21.0</text>
<path d="M469.3,530 L504.5,530 L501.8,538.5 L505,547 L469.3,547 Z" fill="#159be2"/>
<path d="M464.0,550.7 L469.3,555.0 L474.6,550.7 Z" fill="#159be2"/><circle cx="469.3" cy="539.3" r="12.70" fill="#159be2"/><circle cx="469.3" cy="539.3" r="10.60" fill="#fff"/><text x="469.0" y="545.1" font-size="16.3" fill="#159be2" stroke="#159be2" stroke-width="0.29" text-anchor="middle" letter-spacing="-0.6" class="mn">10</text>
<text x="483" y="537.4" font-size="6.5" class="nm">伊朗</text>
<text x="483" y="545.5" font-size="7.5" class="vl">29.0</text>
<path d="M224,648.5 L268.5,648.5 L265.6,657.5 L269,666.5 L224,666.5 Z" fill="#159be2"/>
<path d="M218.5,670.4 L224.0,675.0 L229.5,670.4 Z" fill="#159be2"/><circle cx="224" cy="658.5" r="13.20" fill="#159be2"/><circle cx="224" cy="658.5" r="11.10" fill="#fff"/><text x="224" y="664.5" font-size="16.9" fill="#159be2" stroke="#159be2" stroke-width="0.30" text-anchor="middle" class="mn">9</text>
<text x="239" y="655.9" font-size="7" class="nm">巴西</text>
<text x="239" y="664.5" font-size="8" class="vl">31.0</text>
<path d="M354.5,423 L412.0,423 L409.0,432.1 L412.5,441.3 L354.5,441.3 Z" fill="#159be2"/>
<path d="M348.7,444.8 L354.5,449.0 L360.3,444.8 Z" fill="#159be2"/><circle cx="354.5" cy="432.5" r="13.70" fill="#159be2"/><circle cx="354.5" cy="432.5" r="11.60" fill="#fff"/><text x="354.5" y="438.7" font-size="17.5" fill="#159be2" stroke="#159be2" stroke-width="0.32" text-anchor="middle" class="mn">8</text>
<text x="369.5" y="430.4" font-size="7" class="nm">德国</text>
<text x="369.5" y="439.5" font-size="8.5" class="vl">35.7</text>
<path d="M415,506.8 L466.5,506.8 L463.5,515.9 L467,525 L415,525 Z" fill="#159be2"/>
<path d="M409.2,528.6 L415.0,533.8 L420.8,528.6 Z" fill="#159be2"/><circle cx="415" cy="516.3" r="13.70" fill="#159be2"/><circle cx="415" cy="516.3" r="11.60" fill="#fff"/><text x="415" y="522.5" font-size="17.5" fill="#159be2" stroke="#159be2" stroke-width="0.32" text-anchor="middle" class="mn">7</text>
<text x="431" y="515.0" font-size="7" class="nm">土耳其</text>
<text x="431" y="523.8" font-size="8.5" class="vl">35.8</text>
<path d="M634.1,430.4 L720.3,430.4 L716.4,442.4 L721,454.4 L634.1,454.4 Z" fill="#159be2"/>
<path d="M627.4,457.4 L634.1,463.4 L640.8,457.4 Z" fill="#159be2"/><circle cx="634.1" cy="443" r="16.00" fill="#159be2"/><circle cx="634.1" cy="443" r="13.40" fill="#fff"/><text x="634.1" y="450.3" font-size="20.5" fill="#159be2" stroke="#159be2" stroke-width="0.37" text-anchor="middle" class="mn">6</text>
<text x="651.5" y="441.1" font-size="9.5" class="nm">韩国</text>
<text x="651.5" y="452" font-size="10" class="vl">67.1</text>
<path d="M512.5,443.8 L570.6,443.8 L567.2,454.6 L571.3,465.5 L512.5,465.5 Z" fill="#159be2"/>
<path d="M505.7,469.6 L512.5,475.0 L519.3,469.6 Z" fill="#159be2"/><circle cx="512.5" cy="455" r="16.20" fill="#159be2"/><circle cx="512.5" cy="455" r="13.60" fill="#fff"/><text x="512.5" y="462.3" font-size="20.7" fill="#159be2" stroke="#159be2" stroke-width="0.37" text-anchor="middle" class="mn">5</text>
<text x="530" y="452.7" font-size="9" class="nm">俄罗斯</text>
<text x="530" y="463.4" font-size="10" class="vl">71.6</text>
<path d="M106.3,505.8 L156.8,505.8 L152.8,518.1 L157.5,530.5 L106.3,530.5 Z" fill="#159be2"/>
<path d="M98.7,534.9 L106.3,541.0 L113.9,534.9 Z" fill="#159be2"/><circle cx="106.3" cy="518.7" r="18.00" fill="#159be2"/><circle cx="106.3" cy="518.7" r="15.40" fill="#fff"/><text x="106.3" y="526.9" font-size="23.0" fill="#159be2" stroke="#159be2" stroke-width="0.41" text-anchor="middle" class="mn">4</text>
<text x="127.5" y="516.5" font-size="10.6" class="nm">美国</text>
<text x="127.5" y="528" font-size="11.5" class="vl">72.7</text>
<path d="M660.5,502 L717.3,502 L713.4,514.2 L718,526.4 L660.5,526.4 Z" fill="#159be2"/>
<path d="M652.9,531.3 L660.5,536.5 L668.1,531.3 Z" fill="#159be2"/><circle cx="660.5" cy="515" r="18.10" fill="#159be2"/><circle cx="660.5" cy="515" r="15.50" fill="#fff"/><text x="660.5" y="523.2" font-size="23.2" fill="#159be2" stroke="#159be2" stroke-width="0.42" text-anchor="middle" class="mn">3</text>
<text x="680" y="511.1" font-size="10.5" class="nm">日本</text>
<text x="680" y="523.4" font-size="11" class="vl">83.2</text>
<path d="M526.5,563 L587.2,563 L583.2,575.5 L588,588 L526.5,588 Z" fill="#159be2"/>
<path d="M518.9,592.4 L526.5,599.6 L534.1,592.4 Z" fill="#159be2"/><circle cx="526.5" cy="576" r="18.20" fill="#159be2"/><circle cx="526.5" cy="576" r="15.60" fill="#fff"/><text x="526.5" y="584.3" font-size="23.3" fill="#159be2" stroke="#159be2" stroke-width="0.42" text-anchor="middle" class="mn">2</text>
<text x="549" y="573.4" font-size="11" class="nm">印度</text>
<text x="549" y="585.5" font-size="11.5" class="vl">100.3</text>
<path d="M543.3,489.5 L630.8,489.5 L624.7,508.8 L632,528 L543.3,528 Z" fill="#159be2"/>
<path d="M531.7,534.9 L543.3,543.5 L554.9,534.9 Z" fill="#159be2"/><circle cx="543.3" cy="510" r="27.70" fill="#159be2"/><circle cx="543.3" cy="510" r="24.30" fill="#fff"/><text x="543.3" y="522.6" font-size="35.5" fill="#159be2" stroke="#159be2" stroke-width="0.64" text-anchor="middle" class="mn">1</text>
<text x="571.5" y="505.4" font-size="13.5" class="nm">中国</text>
<text x="571.5" y="521.6" font-size="15" class="vl">1 064.8</text></svg>
<div class="tbar" style="left:66px;top:360.5px;background:#fff"></div><div class="ttl" style="left:88px;top:360.5px;color:#fff;font-size:17.95px"><b style="font-size:19.21px">2020</b>年全球<b style="font-size:19.21px">20</b>大主要钢铁生产国（百万吨）</div>
<div class="tbar" style="left:66px;top:850.5px;background:#0e5aae"></div><div class="ttl" style="left:88px;top:850.5px;color:#4c7294;font-size:17.65px">钢铁产量和消费量：<b style="font-size:18.89px">2010&amp;2020</b>年分地区构成</div>
<svg class="abs" style="left:0;top:880px" width="800" height="760" viewBox="0 880 800 760">
<rect x="392.8" y="899" width="4.4" height="142.2" fill="#587d98"/>
<rect x="392.8" y="1151.8" width="4.4" height="258.2" fill="#587d98"/>
<rect x="392.8" y="1520.8" width="4.4" height="97.9" fill="#587d98"/>
<text class="yr" transform="translate(409,1097.2) rotate(-90)" text-anchor="middle">2010</text>
<text class="yr" transform="translate(409,1464.6) rotate(-90)" text-anchor="middle">2020</text>
<text x="229.5" y="940" class="h1">粗钢产量</text>
<text x="562.5" y="940" class="h1">钢铁表观消费量（成品钢）</text>
<text x="230" y="967.5" class="h2">世界总产量：14.35亿吨</text>
<text x="565.7" y="967.5" class="h2">世界总消费量：13.15亿吨</text>
<text x="225" y="1317" class="h2">世界总产量：18.78亿吨</text>
<text x="565.5" y="1316.5" class="h2">世界总消费量：17.72亿吨</text>
<path d="M224.30,1009.80 A97,97 0 0 1 290.75,1036.14 L253.76,1075.48 A43,43 0 0 0 224.30,1063.80 Z" fill="#a8a27d" stroke="#fff" stroke-width="0.8" stroke-linejoin="round"/>
<path d="M290.75,1036.14 A97,97 0 0 1 300.25,1046.46 L257.97,1080.05 A43,43 0 0 0 253.76,1075.48 Z" fill="#7176b7" stroke="#fff" stroke-width="0.8" stroke-linejoin="round"/>
<path d="M300.25,1046.46 A97,97 0 0 1 319.37,1087.56 L266.45,1098.27 A43,43 0 0 0 257.97,1080.05 Z" fill="#a7b8cb" stroke="#fff" stroke-width="0.8" stroke-linejoin="round"/>
<path d="M319.37,1087.56 A97,97 0 0 1 317.40,1134.03 L265.57,1118.87 A43,43 0 0 0 266.45,1098.27 Z" fill="#4a7db6" stroke="#fff" stroke-width="0.8" stroke-linejoin="round"/>
<path d="M317.40,1134.03 A97,97 0 0 1 127.46,1112.44 L181.37,1109.30 A43,43 0 0 0 265.57,1118.87 Z" fill="#1e96d3" stroke="#fff" stroke-width="0.8" stroke-linejoin="round"/>
<path d="M127.46,1112.44 A97,97 0 0 1 130.17,1083.39 L182.57,1096.42 A43,43 0 0 0 181.37,1109.30 Z" fill="#468d87" stroke="#fff" stroke-width="0.8" stroke-linejoin="round"/>
<path d="M130.17,1083.39 A97,97 0 0 1 151.48,1042.71 L192.02,1078.39 A43,43 0 0 0 182.57,1096.42 Z" fill="#77c6bf" stroke="#fff" stroke-width="0.8" stroke-linejoin="round"/>
<path d="M151.48,1042.71 A97,97 0 0 1 186.86,1017.32 L207.70,1067.13 A43,43 0 0 0 192.02,1078.39 Z" fill="#7f7f28" stroke="#fff" stroke-width="0.8" stroke-linejoin="round"/>
<path d="M186.86,1017.32 A97,97 0 0 1 224.30,1009.80 L224.30,1063.80 A43,43 0 0 0 207.70,1067.13 Z" fill="#b6be17" stroke="#fff" stroke-width="0.8" stroke-linejoin="round"/>
<line x1="162.5" y1="1022" x2="170" y2="1031" stroke="#333" stroke-width="0.5"/>
<line x1="303.5" y1="1033.4" x2="294.5" y2="1042.4" stroke="#333" stroke-width="0.5"/>
<text x="153.5" y="1009" class="dl">其他亚洲国家</text>
<text x="153.5" y="1019" class="dl">7.2%</text>
<text x="210.5" y="1025" class="dl">其他</text>
<text x="210.5" y="1036" class="dl">地区</text>
<text x="210.5" y="1046.5" class="dl">6.3%</text>
<text x="254" y="1037.6" class="dl">欧盟 (28)</text>
<text x="254" y="1047.5" class="dl">12.0%</text>
<text x="312.5" y="1020" class="dl">其他欧洲国家</text>
<text x="312.5" y="1029.5" class="dl">2.3%</text>
<text x="293" y="1073" class="dl">独联体</text>
<text x="293" y="1083" class="dl">7.5%</text>
<text x="297.5" y="1108" class="dl">北美自贸区</text>
<text x="297.5" y="1118" class="dl">7.7%</text>
<text x="208" y="1174" class="dl">中国</text>
<text x="208" y="1184" class="dl">44.5%</text>
<text x="144.5" y="1098" class="dl">印度</text>
<text x="144.5" y="1107.5" class="dl">4.8%</text>
<text x="157.4" y="1072" class="dl">日本</text>
<text x="157.4" y="1082" class="dl">7.6%</text>
<path d="M566.80,1007.80 A101,101 0 0 1 631.72,1031.43 L594.44,1075.86 A43,43 0 0 0 566.80,1065.80 Z" fill="#a8a27d" stroke="#fff" stroke-width="0.8" stroke-linejoin="round"/>
<path d="M631.72,1031.43 A101,101 0 0 1 641.77,1041.12 L598.72,1079.99 A43,43 0 0 0 594.44,1075.86 Z" fill="#7176b7" stroke="#fff" stroke-width="0.8" stroke-linejoin="round"/>
<path d="M641.77,1041.12 A101,101 0 0 1 655.66,1060.80 L604.63,1088.36 A43,43 0 0 0 598.72,1079.99 Z" fill="#a7b8cb" stroke="#fff" stroke-width="0.8" stroke-linejoin="round"/>
<path d="M655.66,1060.80 A101,101 0 0 1 667.72,1112.77 L609.77,1110.49 A43,43 0 0 0 604.63,1088.36 Z" fill="#4a7db6" stroke="#fff" stroke-width="0.8" stroke-linejoin="round"/>
<path d="M667.72,1112.77 A101,101 0 0 1 470.04,1137.77 L525.61,1121.13 A43,43 0 0 0 609.77,1110.49 Z" fill="#1e96d3" stroke="#fff" stroke-width="0.8" stroke-linejoin="round"/>
<path d="M470.04,1137.77 A101,101 0 0 1 465.82,1107.05 L523.81,1108.06 A43,43 0 0 0 525.61,1121.13 Z" fill="#468d87" stroke="#fff" stroke-width="0.8" stroke-linejoin="round"/>
<path d="M465.82,1107.05 A101,101 0 0 1 470.90,1077.11 L525.97,1095.31 A43,43 0 0 0 523.81,1108.06 Z" fill="#77c6bf" stroke="#fff" stroke-width="0.8" stroke-linejoin="round"/>
<path d="M470.90,1077.11 A101,101 0 0 1 506.36,1027.88 L541.07,1074.35 A43,43 0 0 0 525.97,1095.31 Z" fill="#7f7f28" stroke="#fff" stroke-width="0.8" stroke-linejoin="round"/>
<path d="M506.36,1027.88 A101,101 0 0 1 566.80,1007.80 L566.80,1065.80 A43,43 0 0 0 541.07,1074.35 Z" fill="#b6be17" stroke="#fff" stroke-width="0.8" stroke-linejoin="round"/>
<line x1="641.6" y1="1031" x2="635" y2="1038" stroke="#333" stroke-width="0.5"/>
<line x1="653.6" y1="1046.6" x2="644" y2="1052" stroke="#333" stroke-width="0.5"/>
<text x="541" y="1034.6" class="dl">其他地区</text>
<text x="541" y="1044.5" class="dl">10.2%</text>
<text x="596" y="1036.4" class="dl">欧盟 (28)</text>
<text x="596" y="1046.6" class="dl">11.1%</text>
<text x="651.5" y="1017" class="dl">其他欧洲国家</text>
<text x="651.5" y="1027" class="dl">2.2%</text>
<text x="667" y="1041.5" class="dl">独联体</text>
<text x="667" y="1052" class="dl">3.8%</text>
<text x="639" y="1091.6" class="dl">北美自贸区</text>
<text x="639" y="1101.5" class="dl">8.5%</text>
<text x="579" y="1176.5" class="dl">中国</text>
<text x="579" y="1187" class="dl">44.7%</text>
<text x="484" y="1119.5" class="dl">印度</text>
<text x="484" y="1129.4" class="dl">4.9%</text>
<text x="486.5" y="1094" class="dl">日本</text>
<text x="486.5" y="1104" class="dl">4.8%</text>
<text x="503" y="1057.4" class="dl">其他</text>
<text x="503" y="1068.5" class="dl">亚洲国家</text>
<text x="503" y="1079" class="dl">9.7%</text>
<path d="M228.70,1366.80 A100.7,100.7 0 0 1 273.94,1377.53 L248.38,1428.37 A43.8,43.8 0 0 0 228.70,1423.70 Z" fill="#a8a27d" stroke="#fff" stroke-width="0.8" stroke-linejoin="round"/>
<path d="M273.94,1377.53 A100.7,100.7 0 0 1 285.40,1384.28 L253.36,1431.30 A43.8,43.8 0 0 0 248.38,1428.37 Z" fill="#7176b7" stroke="#fff" stroke-width="0.8" stroke-linejoin="round"/>
<path d="M285.40,1384.28 A100.7,100.7 0 0 1 309.53,1407.44 L263.86,1441.38 A43.8,43.8 0 0 0 253.36,1431.30 Z" fill="#a7b8cb" stroke="#fff" stroke-width="0.8" stroke-linejoin="round"/>
<path d="M309.53,1407.44 A100.7,100.7 0 0 1 324.93,1437.83 L270.56,1454.60 A43.8,43.8 0 0 0 263.86,1441.38 Z" fill="#4a7db6" stroke="#fff" stroke-width="0.8" stroke-linejoin="round"/>
<path d="M324.93,1437.83 A100.7,100.7 0 1 1 128.84,1454.54 L185.26,1461.86 A43.8,43.8 0 1 0 270.56,1454.60 Z" fill="#1e96d3" stroke="#fff" stroke-width="0.8" stroke-linejoin="round"/>
<path d="M128.84,1454.54 A100.7,100.7 0 0 1 138.59,1422.55 L189.51,1447.95 A43.8,43.8 0 0 0 185.26,1461.86 Z" fill="#468d87" stroke="#fff" stroke-width="0.8" stroke-linejoin="round"/>
<path d="M138.59,1422.55 A100.7,100.7 0 0 1 154.32,1399.62 L196.35,1437.97 A43.8,43.8 0 0 0 189.51,1447.95 Z" fill="#77c6bf" stroke="#fff" stroke-width="0.8" stroke-linejoin="round"/>
<path d="M154.32,1399.62 A100.7,100.7 0 0 1 193.33,1373.21 L213.32,1426.49 A43.8,43.8 0 0 0 196.35,1437.97 Z" fill="#7f7f28" stroke="#fff" stroke-width="0.8" stroke-linejoin="round"/>
<path d="M193.33,1373.21 A100.7,100.7 0 0 1 228.70,1366.80 L228.70,1423.70 A43.8,43.8 0 0 0 213.32,1426.49 Z" fill="#b6be17" stroke="#fff" stroke-width="0.8" stroke-linejoin="round"/>
<line x1="168.4" y1="1379.4" x2="176.5" y2="1388.4" stroke="#333" stroke-width="0.5"/>
<line x1="137.5" y1="1405.5" x2="147.4" y2="1411.5" stroke="#333" stroke-width="0.5"/>
<line x1="283.6" y1="1375.5" x2="277.6" y2="1383.6" stroke="#333" stroke-width="0.5"/>
<text x="155" y="1369.5" class="dl">其他亚洲国家</text>
<text x="155" y="1379.4" class="dl">7.5%</text>
<text x="121.6" y="1395.6" class="dl">日本</text>
<text x="121.6" y="1406" class="dl">4.4%</text>
<text x="215.5" y="1383.6" class="dl">其他</text>
<text x="215.5" y="1393.5" class="dl">地区</text>
<text x="215.5" y="1404" class="dl">5.7%</text>
<text x="244.6" y="1385" class="dl">欧盟</text>
<text x="244.6" y="1395" class="dl">(28)</text>
<text x="244.6" y="1405.5" class="dl">7.4%</text>
<text x="295.6" y="1363" class="dl">其他欧洲国家</text>
<text x="295.6" y="1373" class="dl">2.1%</text>
<text x="288" y="1407" class="dl">独联体</text>
<text x="288" y="1416.6" class="dl">5.3%</text>
<text x="296.5" y="1431" class="dl" transform="rotate(-33 296.5 1433.0)">北美自贸区</text>
<text x="296.5" y="1441" class="dl" transform="rotate(-33 296.5 1433.0)">5.4%</text>
<text x="235.6" y="1536.6" class="dl">中国</text>
<text x="235.6" y="1548" class="dl">56.7%</text>
<text x="148.6" y="1441.5" class="dl">印度</text>
<text x="148.6" y="1452" class="dl">5.3%</text>
<path d="M567.80,1366.50 A100.8,100.8 0 0 1 615.80,1378.66 L588.66,1428.79 A43.8,43.8 0 0 0 567.80,1423.50 Z" fill="#a8a27d" stroke="#fff" stroke-width="0.8" stroke-linejoin="round"/>
<path d="M615.80,1378.66 A100.8,100.8 0 0 1 626.54,1385.38 L593.32,1431.70 A43.8,43.8 0 0 0 588.66,1428.79 Z" fill="#7176b7" stroke="#fff" stroke-width="0.8" stroke-linejoin="round"/>
<path d="M626.54,1385.38 A100.8,100.8 0 0 1 642.14,1399.23 L600.10,1437.72 A43.8,43.8 0 0 0 593.32,1431.70 Z" fill="#a7b8cb" stroke="#fff" stroke-width="0.8" stroke-linejoin="round"/>
<path d="M642.14,1399.23 A100.8,100.8 0 0 1 662.85,1433.75 L609.10,1452.72 A43.8,43.8 0 0 0 600.10,1437.72 Z" fill="#4a7db6" stroke="#fff" stroke-width="0.8" stroke-linejoin="round"/>
<path d="M662.85,1433.75 A100.8,100.8 0 1 1 467.13,1462.24 L524.06,1465.10 A43.8,43.8 0 1 0 609.10,1452.72 Z" fill="#1e96d3" stroke="#fff" stroke-width="0.8" stroke-linejoin="round"/>
<path d="M467.13,1462.24 A100.8,100.8 0 0 1 473.62,1431.37 L526.88,1451.69 A43.8,43.8 0 0 0 524.06,1465.10 Z" fill="#468d87" stroke="#fff" stroke-width="0.8" stroke-linejoin="round"/>
<path d="M473.62,1431.37 A100.8,100.8 0 0 1 482.02,1414.36 L530.53,1444.30 A43.8,43.8 0 0 0 526.88,1451.69 Z" fill="#77c6bf" stroke="#fff" stroke-width="0.8" stroke-linejoin="round"/>
<path d="M482.02,1414.36 A100.8,100.8 0 0 1 524.31,1376.36 L548.90,1427.79 A43.8,43.8 0 0 0 530.53,1444.30 Z" fill="#7f7f28" stroke="#fff" stroke-width="0.8" stroke-linejoin="round"/>
<path d="M524.31,1376.36 A100.8,100.8 0 0 1 567.80,1366.50 L567.80,1423.50 A43.8,43.8 0 0 0 548.90,1427.79 Z" fill="#b6be17" stroke="#fff" stroke-width="0.8" stroke-linejoin="round"/>
<line x1="624.5" y1="1376.4" x2="620" y2="1384.5" stroke="#333" stroke-width="0.5"/>
<line x1="641.6" y1="1392.6" x2="632" y2="1397" stroke="#333" stroke-width="0.5"/>
<line x1="469.4" y1="1420.5" x2="480.5" y2="1424.4" stroke="#333" stroke-width="0.5"/>
<text x="630.5" y="1362" class="dl">其他欧洲国家</text>
<text x="630.5" y="1372.5" class="dl">2.0%</text>
<text x="656.6" y="1383.6" class="dl">独联体</text>
<text x="656.6" y="1393.5" class="dl">3.3%</text>
<text x="586.4" y="1388" class="dl">欧盟</text>
<text x="586.4" y="1398" class="dl">(28)</text>
<text x="586.4" y="1408.5" class="dl">7.9%</text>
<text x="548.6" y="1388" class="dl">其他</text>
<text x="548.6" y="1398" class="dl">地区</text>
<text x="548.6" y="1408.5" class="dl">7.1%</text>
<text x="515" y="1402.5" class="dl">其他</text>
<text x="515" y="1413" class="dl">亚洲国家</text>
<text x="515" y="1423.5" class="dl">9.1%</text>
<text x="455" y="1415" class="dl">日本</text>
<text x="455" y="1425" class="dl">3.0%</text>
<text x="485" y="1449" class="dl">印度</text>
<text x="485" y="1458.6" class="dl">5.0%</text>
<text x="635.6" y="1427" class="dl" transform="rotate(-30 635.6 1429.0)">北美自贸区</text>
<text x="635.6" y="1437" class="dl" transform="rotate(-30 635.6 1429.0)">6.4%</text>
<text x="579.5" y="1533.6" class="dl">中国</text>
<text x="579.5" y="1543.5" class="dl">56.2%</text>
<text x="87.7" y="1236.5" class="tb">其他地区:</text>
<text x="87.7" y="1250.5" class="tr">非洲</text>
<text x="194.7" y="1250.5" class="tr" text-anchor="end">1.2 %</text>
<text x="226.7" y="1250.5" class="tr">中南美洲</text>
<text x="379.4" y="1250.5" class="tr" text-anchor="end">3.1 %</text>
<text x="87.7" y="1264.5" class="tr">中东</text>
<text x="194.7" y="1264.5" class="tr" text-anchor="end">1.4 %</text>
<text x="226.7" y="1264.5" class="tr">澳大利亚和新西兰</text>
<text x="379.4" y="1264.5" class="tr" text-anchor="end">0.6 %</text>
<text x="431.7" y="1236.5" class="tb">其他地区:</text>
<text x="431.7" y="1250.5" class="tr">非洲</text>
<text x="538.7" y="1250.5" class="tr" text-anchor="end">2.4 %</text>
<text x="570.7" y="1250.5" class="tr">中南美洲</text>
<text x="723.4" y="1250.5" class="tr" text-anchor="end">3.5 %</text>
<text x="431.7" y="1264.5" class="tr">中东</text>
<text x="538.7" y="1264.5" class="tr" text-anchor="end">3.7 %</text>
<text x="570.7" y="1264.5" class="tr">澳大利亚和新西兰</text>
<text x="723.4" y="1264.5" class="tr" text-anchor="end">0.6 %</text>
<text x="87.7" y="1589.5" class="tb">其他地区:</text>
<text x="87.7" y="1603.5" class="tr">非洲</text>
<text x="194.7" y="1603.5" class="tr" text-anchor="end">0.9 %</text>
<text x="226.7" y="1603.5" class="tr">中南美洲</text>
<text x="379.4" y="1603.5" class="tr" text-anchor="end">2.1 %</text>
<text x="87.7" y="1617.5" class="tr">中东</text>
<text x="194.7" y="1617.5" class="tr" text-anchor="end">2.4 %</text>
<text x="226.7" y="1617.5" class="tr">澳大利亚和新西兰</text>
<text x="379.4" y="1617.5" class="tr" text-anchor="end">0.3 %</text>
<text x="431.7" y="1589.5" class="tb">其他地区:</text>
<text x="431.7" y="1603.5" class="tr">非洲</text>
<text x="538.7" y="1603.5" class="tr" text-anchor="end">2.0 %</text>
<text x="570.7" y="1603.5" class="tr">中南美洲</text>
<text x="723.4" y="1603.5" class="tr" text-anchor="end">2.2 %</text>
<text x="431.7" y="1617.5" class="tr">中东</text>
<text x="538.7" y="1617.5" class="tr" text-anchor="end">2.6 %</text>
<text x="570.7" y="1617.5" class="tr">澳大利亚和新西兰</text>
<text x="723.4" y="1617.5" class="tr" text-anchor="end">0.3 %</text>
</svg>
<div class="box" style="left:25px;top:1667px;width:746.5px;height:470px;background:#0848a2"></div>
<svg class="abs" style="left:0;top:1667px" width="771.5" height="470" viewBox="0 1667 771.5 470"><use href="#land" fill="#fff" transform="translate(0,1317.5)"/><path d="M260,1763.5 L260,1771 L349,1771 L349,1811.6" fill="none" stroke="#159be2" stroke-width="1" stroke-dasharray="3 2"/><rect x="347.5" y="1810.1" width="3" height="3" fill="#159be2"/>
<path d="M352.6,1761 L352.6,1815.6" fill="none" stroke="#159be2" stroke-width="1" stroke-dasharray="3 2"/><rect x="351.1" y="1814.1" width="3" height="3" fill="#159be2"/>
<path d="M287,1791.4 L336.6,1791.4 L336.6,1803.6" fill="none" stroke="#159be2" stroke-width="1" stroke-dasharray="3 2"/><rect x="335.1" y="1802.1" width="3" height="3" fill="#159be2"/>
<path d="M300.5,1815.4 L343.6,1815.4" fill="none" stroke="#159be2" stroke-width="1" stroke-dasharray="3 2"/><rect x="342.1" y="1813.9" width="3" height="3" fill="#159be2"/>
<path d="M282,1857.6 L304,1857.6 L304,1829 L344,1829" fill="none" stroke="#159be2" stroke-width="1" stroke-dasharray="3 2"/><rect x="342.5" y="1827.5" width="3" height="3" fill="#159be2"/>
<path d="M290,1889 L308.6,1889 L308.6,1842 L326,1842" fill="none" stroke="#159be2" stroke-width="1" stroke-dasharray="3 2"/><rect x="324.5" y="1840.5" width="3" height="3" fill="#159be2"/>
<path d="M355.4,1880.4 L365.6,1880.4 L365.6,1835.6" fill="none" stroke="#159be2" stroke-width="1" stroke-dasharray="3 2"/><rect x="364.1" y="1834.1" width="3" height="3" fill="#159be2"/>
<path d="M353.6,1903.6 L353.6,1897.4 L375.6,1897.4 L375.6,1825.6" fill="none" stroke="#159be2" stroke-width="1" stroke-dasharray="3 2"/><rect x="374.1" y="1824.1" width="3" height="3" fill="#159be2"/>
<path d="M381,1941.4 L381,1818 L364,1818" fill="none" stroke="#159be2" stroke-width="1" stroke-dasharray="3 2"/><rect x="362.5" y="1816.5" width="3" height="3" fill="#159be2"/>
<path d="M439,1797.6 L413.6,1797.6 L413.6,1807" fill="none" stroke="#159be2" stroke-width="1" stroke-dasharray="3 2"/><rect x="412.1" y="1805.5" width="3" height="3" fill="#159be2"/>
<path d="M459.4,1822.4 L404,1822.4" fill="none" stroke="#159be2" stroke-width="1" stroke-dasharray="3 2"/><rect x="402.5" y="1820.9" width="3" height="3" fill="#159be2"/>
<path d="M214.6,1745 L293.4,1745 L288.2,1754.2 L293.4,1763.5 L214.6,1763.5 Z" fill="#159be2"/>
<circle cx="217.5" cy="1740.4" r="2.6" fill="#159be2"/><rect x="213.6" y="1744" width="7.9" height="21.5" rx="2.8" fill="#159be2"/>
<text x="223.5" y="1753.7" font-size="8" class="nm">荷兰</text>
<text x="223.5" y="1762.8" font-size="9" class="vl">251.9</text>
<path d="M314,1740.4 L376.4,1740.4 L371.0,1750.0 L376.4,1759.6 L314,1759.6 Z" fill="#159be2"/>
<circle cx="318" cy="1734.4" r="3" fill="#159be2"/><rect x="313" y="1739" width="10.0" height="23.0" rx="3.5" fill="#159be2"/>
<text x="326.6" y="1749.1" font-size="8" class="nm">德国</text>
<text x="326.6" y="1758.2" font-size="9" class="vl">370.9</text>
<path d="M380.4,1757 L435.5,1757 L430.2,1766.5 L435.5,1776 L380.4,1776 Z" fill="#159be2"/>
<circle cx="384" cy="1751.5" r="3" fill="#159be2"/><rect x="379.4" y="1756" width="9.6" height="22.0" rx="3.4" fill="#159be2"/>
<text x="392" y="1765.7" font-size="8" class="nm">瑞典</text>
<text x="392" y="1774.8" font-size="9" class="vl">350.0</text>
<path d="M191.5,1782 L287,1782 L281.7,1791.5 L287,1801 L191.5,1801 Z" fill="#159be2"/>
<circle cx="194.4" cy="1780.5" r="2.3" fill="#159be2"/><rect x="190.5" y="1782" width="7.5" height="20.0" rx="2.6" fill="#159be2"/>
<text x="201.6" y="1790.7" font-size="8" class="nm">英国</text>
<text x="201.6" y="1799.8" font-size="9" class="vl">132.1</text>
<path d="M357,1791.4 L411.5,1791.4 L406.1,1801.0 L411.5,1810.6 L357,1810.6 Z" fill="#159be2"/>
<circle cx="360.5" cy="1786.6" r="3" fill="#159be2"/><rect x="356" y="1790.5" width="9.5" height="22.5" rx="3.3" fill="#159be2"/>
<text x="368" y="1800.1" font-size="8" class="nm">波兰</text>
<text x="368" y="1809.2" font-size="9" class="vl">339.9</text>
<path d="M206,1810 L300.5,1810 L294.9,1820.0 L300.5,1830 L206,1830 Z" fill="#159be2"/>
<circle cx="209" cy="1805.5" r="3" fill="#159be2"/><rect x="205" y="1809" width="9.0" height="24.4" rx="3.1" fill="#159be2"/>
<text x="216.6" y="1818.7" font-size="8" class="nm">比利时-卢森堡</text>
<text x="216.6" y="1827.8" font-size="9" class="vl">352.5</text>
<path d="M109,1801 L164.4,1801 L158.9,1810.8 L164.4,1820.5 L109,1820.5 Z" fill="#159be2"/>
<circle cx="113" cy="1796" r="2.8" fill="#159be2"/><rect x="108" y="1800.4" width="10.0" height="22.6" rx="3.5" fill="#159be2"/>
<text x="121" y="1809.7" font-size="8" class="nm">加拿大</text>
<text x="121" y="1818.8" font-size="9" class="vl">323.1</text>
<path d="M101,1837.6 L140.4,1837.6 L135.1,1847.0 L140.4,1856.5 L101,1856.5 Z" fill="#159be2"/>
<circle cx="104.4" cy="1833.4" r="2.6" fill="#159be2"/><rect x="100" y="1837" width="8.5" height="21.0" rx="3.0" fill="#159be2"/>
<text x="111.6" y="1846.3" font-size="8" class="nm">美国</text>
<text x="111.6" y="1855.4" font-size="9" class="vl">241.8</text>
<path d="M229,1848.4 L282,1848.4 L276.6,1858.0 L282,1867.6 L229,1867.6 Z" fill="#159be2"/>
<circle cx="232" cy="1844" r="2.5" fill="#159be2"/><rect x="228" y="1847.5" width="8.0" height="21.5" rx="2.8" fill="#159be2"/>
<text x="240" y="1857.1" font-size="8" class="nm">法国</text>
<text x="240" y="1866.2" font-size="9" class="vl">178.2</text>
<path d="M246.5,1878 L290,1878 L284.7,1887.5 L290,1897 L246.5,1897 Z" fill="#159be2"/>
<circle cx="250" cy="1873.6" r="2.6" fill="#159be2"/><rect x="245.5" y="1877" width="8.5" height="22.0" rx="3.0" fill="#159be2"/>
<text x="258" y="1886.7" font-size="8" class="nm">西班牙</text>
<text x="258" y="1895.8" font-size="9" class="vl">250.1</text>
<path d="M90,1880.5 L142.5,1880.5 L137.2,1890.0 L142.5,1899.5 L90,1899.5 Z" fill="#159be2"/>
<circle cx="93.6" cy="1876" r="2.5" fill="#159be2"/><rect x="89" y="1880" width="8.5" height="21.0" rx="3.0" fill="#159be2"/>
<text x="102" y="1889.2" font-size="8" class="nm">墨西哥</text>
<text x="102" y="1898.3" font-size="9" class="vl">168.4</text>
<path d="M315.4,1871.6 L355.4,1871.6 L350.1,1881.1 L355.4,1890.6 L315.4,1890.6 Z" fill="#159be2"/>
<circle cx="318" cy="1865.6" r="3" fill="#159be2"/><rect x="314.4" y="1870" width="7.2" height="23.0" rx="2.5" fill="#159be2"/>
<text x="326" y="1880.3" font-size="8" class="nm">意大利</text>
<text x="326" y="1889.4" font-size="9" class="vl">328.6</text>
<path d="M389.4,1876 L431,1876 L425.7,1885.5 L431,1895 L389.4,1895 Z" fill="#159be2"/>
<circle cx="391.6" cy="1872.4" r="2.2" fill="#159be2"/><rect x="388.4" y="1875.5" width="6.6" height="20.5" rx="2.3" fill="#159be2"/>
<text x="400" y="1884.7" font-size="8" class="nm">埃及</text>
<text x="400" y="1893.8" font-size="9" class="vl">94.7</text>
<path d="M407.6,1838 L456,1838 L450.7,1847.5 L456,1857 L407.6,1857 Z" fill="#159be2"/>
<circle cx="412" cy="1833" r="3" fill="#159be2"/><rect x="406.6" y="1837" width="9.9" height="24.0" rx="3.5" fill="#159be2"/>
<text x="419" y="1846.7" font-size="8" class="nm">土耳其</text>
<text x="419" y="1855.8" font-size="9" class="vl">349.6</text>
<path d="M440,1790.4 L496.6,1790.4 L491.2,1800.0 L496.6,1809.6 L440,1809.6 Z" fill="#159be2"/>
<circle cx="443" cy="1786.5" r="2.2" fill="#159be2"/><rect x="439" y="1790" width="8.0" height="20.5" rx="2.8" fill="#159be2"/>
<text x="451" y="1799.1" font-size="8" class="nm">乌克兰</text>
<text x="451" y="1808.2" font-size="9" class="vl">105.5</text>
<path d="M460.4,1820 L520,1820 L514.7,1829.5 L520,1839 L460.4,1839 Z" fill="#159be2"/>
<circle cx="463.6" cy="1815.6" r="2.5" fill="#159be2"/><rect x="459.4" y="1819.5" width="8.6" height="21.0" rx="3.0" fill="#159be2"/>
<text x="471" y="1828.7" font-size="8" class="nm">罗马尼亚</text>
<text x="471" y="1837.8" font-size="9" class="vl">220.9</text>
<path d="M470.6,1861.5 L509.5,1861.5 L504.2,1871.0 L509.5,1880.4 L470.6,1880.4 Z" fill="#159be2"/>
<circle cx="473.5" cy="1857" r="2.5" fill="#159be2"/><rect x="469.6" y="1861" width="8.4" height="21.0" rx="2.9" fill="#159be2"/>
<text x="480.4" y="1870.2" font-size="8" class="nm">伊朗</text>
<text x="480.4" y="1879.3" font-size="9" class="vl">204.9</text>
<path d="M522,1889 L564.4,1889 L559.1,1898.5 L564.4,1908 L522,1908 Z" fill="#159be2"/>
<circle cx="525" cy="1885" r="2.2" fill="#159be2"/><rect x="521" y="1888.5" width="8.0" height="20.5" rx="2.8" fill="#159be2"/>
<text x="533" y="1897.7" font-size="8" class="nm">印度</text>
<text x="533" y="1906.8" font-size="9" class="vl">64.2</text>
<path d="M553.4,1780.5 L602.5,1780.5 L597.2,1790.0 L602.5,1799.4 L553.4,1799.4 Z" fill="#159be2"/>
<circle cx="556.6" cy="1776" r="2.7" fill="#159be2"/><rect x="552.4" y="1780" width="8.6" height="21.0" rx="3.0" fill="#159be2"/>
<text x="564.4" y="1789.2" font-size="8" class="nm">俄罗斯</text>
<text x="564.4" y="1798.3" font-size="9" class="vl">291.4</text>
<path d="M573.3,1852 L619.5,1852 L614.2,1861.4 L619.5,1870.8 L573.3,1870.8 Z" fill="#159be2"/>
<circle cx="578" cy="1845" r="3.6" fill="#159be2"/><rect x="572.3" y="1849.5" width="11.7" height="22.5" rx="3.5" fill="#159be2"/><rect x="574.5" y="1852.5" width="7.3" height="23.1" rx="2.2" fill="#159be2"/>
<text x="586" y="1860.7" font-size="8" class="nm">中国</text>
<text x="586" y="1869.8" font-size="9" class="vl">691.3</text>
<path d="M627,1812 L709.4,1812 L704.2,1821.3 L709.4,1830.6 L627,1830.6 Z" fill="#159be2"/>
<circle cx="636" cy="1796.4" r="5" fill="#159be2"/><rect x="626" y="1803" width="19.6" height="24.0" rx="3.5" fill="#159be2"/><rect x="630.5" y="1806" width="11.1" height="40.5" rx="3.3" fill="#159be2"/>
<text x="649" y="1820.7" font-size="8" class="nm">韩国</text>
<text x="649" y="1829.8" font-size="9" class="vl">954.9</text>
<path d="M651,1847 L695.6,1847 L690.3,1856.5 L695.6,1866 L651,1866 Z" fill="#159be2"/>
<circle cx="655" cy="1840.5" r="3.3" fill="#159be2"/><rect x="650" y="1845" width="10.5" height="23.0" rx="3.5" fill="#159be2"/><rect x="651.8" y="1848" width="6.9" height="22.5" rx="2.1" fill="#159be2"/>
<text x="663" y="1855.7" font-size="8" class="nm">日本</text>
<text x="663" y="1864.8" font-size="9" class="vl">415.7</text>
<path d="M621,1882.5 L711.5,1882.5 L706.2,1892.0 L711.5,1901.4 L621,1901.4 Z" fill="#159be2"/>
<circle cx="629.6" cy="1869" r="4.5" fill="#159be2"/><rect x="620" y="1875" width="18.6" height="28.0" rx="3.5" fill="#159be2"/><rect x="624.5" y="1878" width="10.5" height="40.5" rx="3.1" fill="#159be2"/>
<text x="641.6" y="1891.2" font-size="8" class="nm">中国台湾</text>
<text x="641.6" y="1900.3" font-size="9" class="vl">777.0</text>
<path d="M321,1903.6 L376.6,1903.6 L371.3,1913.0 L376.6,1922.4 L321,1922.4 Z" fill="#159be2"/>
<circle cx="324.4" cy="1897.4" r="3.2" fill="#159be2"/><rect x="320" y="1902" width="8.8" height="22.0" rx="3.1" fill="#159be2"/><rect x="321.6" y="1905" width="5.6" height="21.0" rx="1.7" fill="#159be2"/>
<text x="333" y="1912.3" font-size="8" class="nm">奥地利</text>
<text x="333" y="1921.4" font-size="9" class="vl">405.1</text>
<path d="M353.6,1941.4 L418.6,1941.4 L413.5,1950.5 L418.6,1959.6 L353.6,1959.6 Z" fill="#159be2"/>
<circle cx="358" cy="1934" r="3.5" fill="#159be2"/><rect x="352.6" y="1939" width="10.0" height="23.0" rx="3.5" fill="#159be2"/><rect x="354.4" y="1942" width="6.6" height="23.0" rx="2.0" fill="#159be2"/>
<text x="365.6" y="1950.1" font-size="8" class="nm">捷克</text>
<text x="365.6" y="1959.2" font-size="9" class="vl">616.3</text>
<path d="M173.3,1920.5 L229,1920.5 L224.4,1928.8 L229,1937 L173.3,1937 Z" fill="#159be2"/>
<circle cx="174.5" cy="1917" r="2" fill="#159be2"/><rect x="172.3" y="1920" width="4.7" height="17.5" rx="1.6" fill="#159be2"/>
<text x="181.3" y="1927.9" font-size="6.7" class="nm">委内瑞拉</text>
<text x="181.3" y="1935.1" font-size="7.6" class="vl">3.0</text>
<path d="M207.5,1973 L252.5,1973 L247.2,1982.5 L252.5,1992 L207.5,1992 Z" fill="#159be2"/>
<circle cx="210" cy="1969.5" r="2.2" fill="#159be2"/><rect x="206.5" y="1972.5" width="7.0" height="20.5" rx="2.4" fill="#159be2"/>
<text x="217.5" y="1981.7" font-size="8" class="nm">巴西</text>
<text x="217.5" y="1990.8" font-size="9" class="vl">99.9</text>
<path d="M200,2030.5 L263.5,2030.5 L258.2,2040.0 L263.5,2049.5 L200,2049.5 Z" fill="#159be2"/>
<circle cx="202.5" cy="2027" r="2.2" fill="#159be2"/><rect x="199" y="2030" width="7.0" height="20.5" rx="2.4" fill="#159be2"/>
<text x="211" y="2039.2" font-size="8" class="nm">阿根廷</text>
<text x="211" y="2048.3" font-size="9" class="vl">79.5</text>
<path d="M635,1969.5 L690,1969.5 L684.7,1979.0 L690,1988.5 L635,1988.5 Z" fill="#159be2"/>
<circle cx="637.5" cy="1966.5" r="2.3" fill="#159be2"/><rect x="634" y="1969" width="7.0" height="20.5" rx="2.4" fill="#159be2"/>
<text x="645" y="1978.2" font-size="8" class="nm">大洋洲</text>
<text x="645" y="1987.3" font-size="9" class="vl">145.4</text>
<path d="M391,2020.5 L467.5,2020.5 L462.2,2030.0 L467.5,2039.5 L391,2039.5 Z" fill="#159be2"/>
<circle cx="393.5" cy="2016" r="2.2" fill="#159be2"/><rect x="390" y="2020" width="7.0" height="20.5" rx="2.4" fill="#159be2"/>
<text x="402.5" y="2029.2" font-size="8" class="nm">南非</text>
<text x="402.5" y="2038.3" font-size="9" class="vl">67.0</text></svg>
<div class="tbar" style="left:66px;top:1696px;background:#fff"></div><div class="ttl" style="left:89.2px;top:1696px;color:#fff;font-size:17.5px"><b style="font-size:18.73px">2020</b>年人均钢铁表观消费量（千克）</div>
</body></html>
